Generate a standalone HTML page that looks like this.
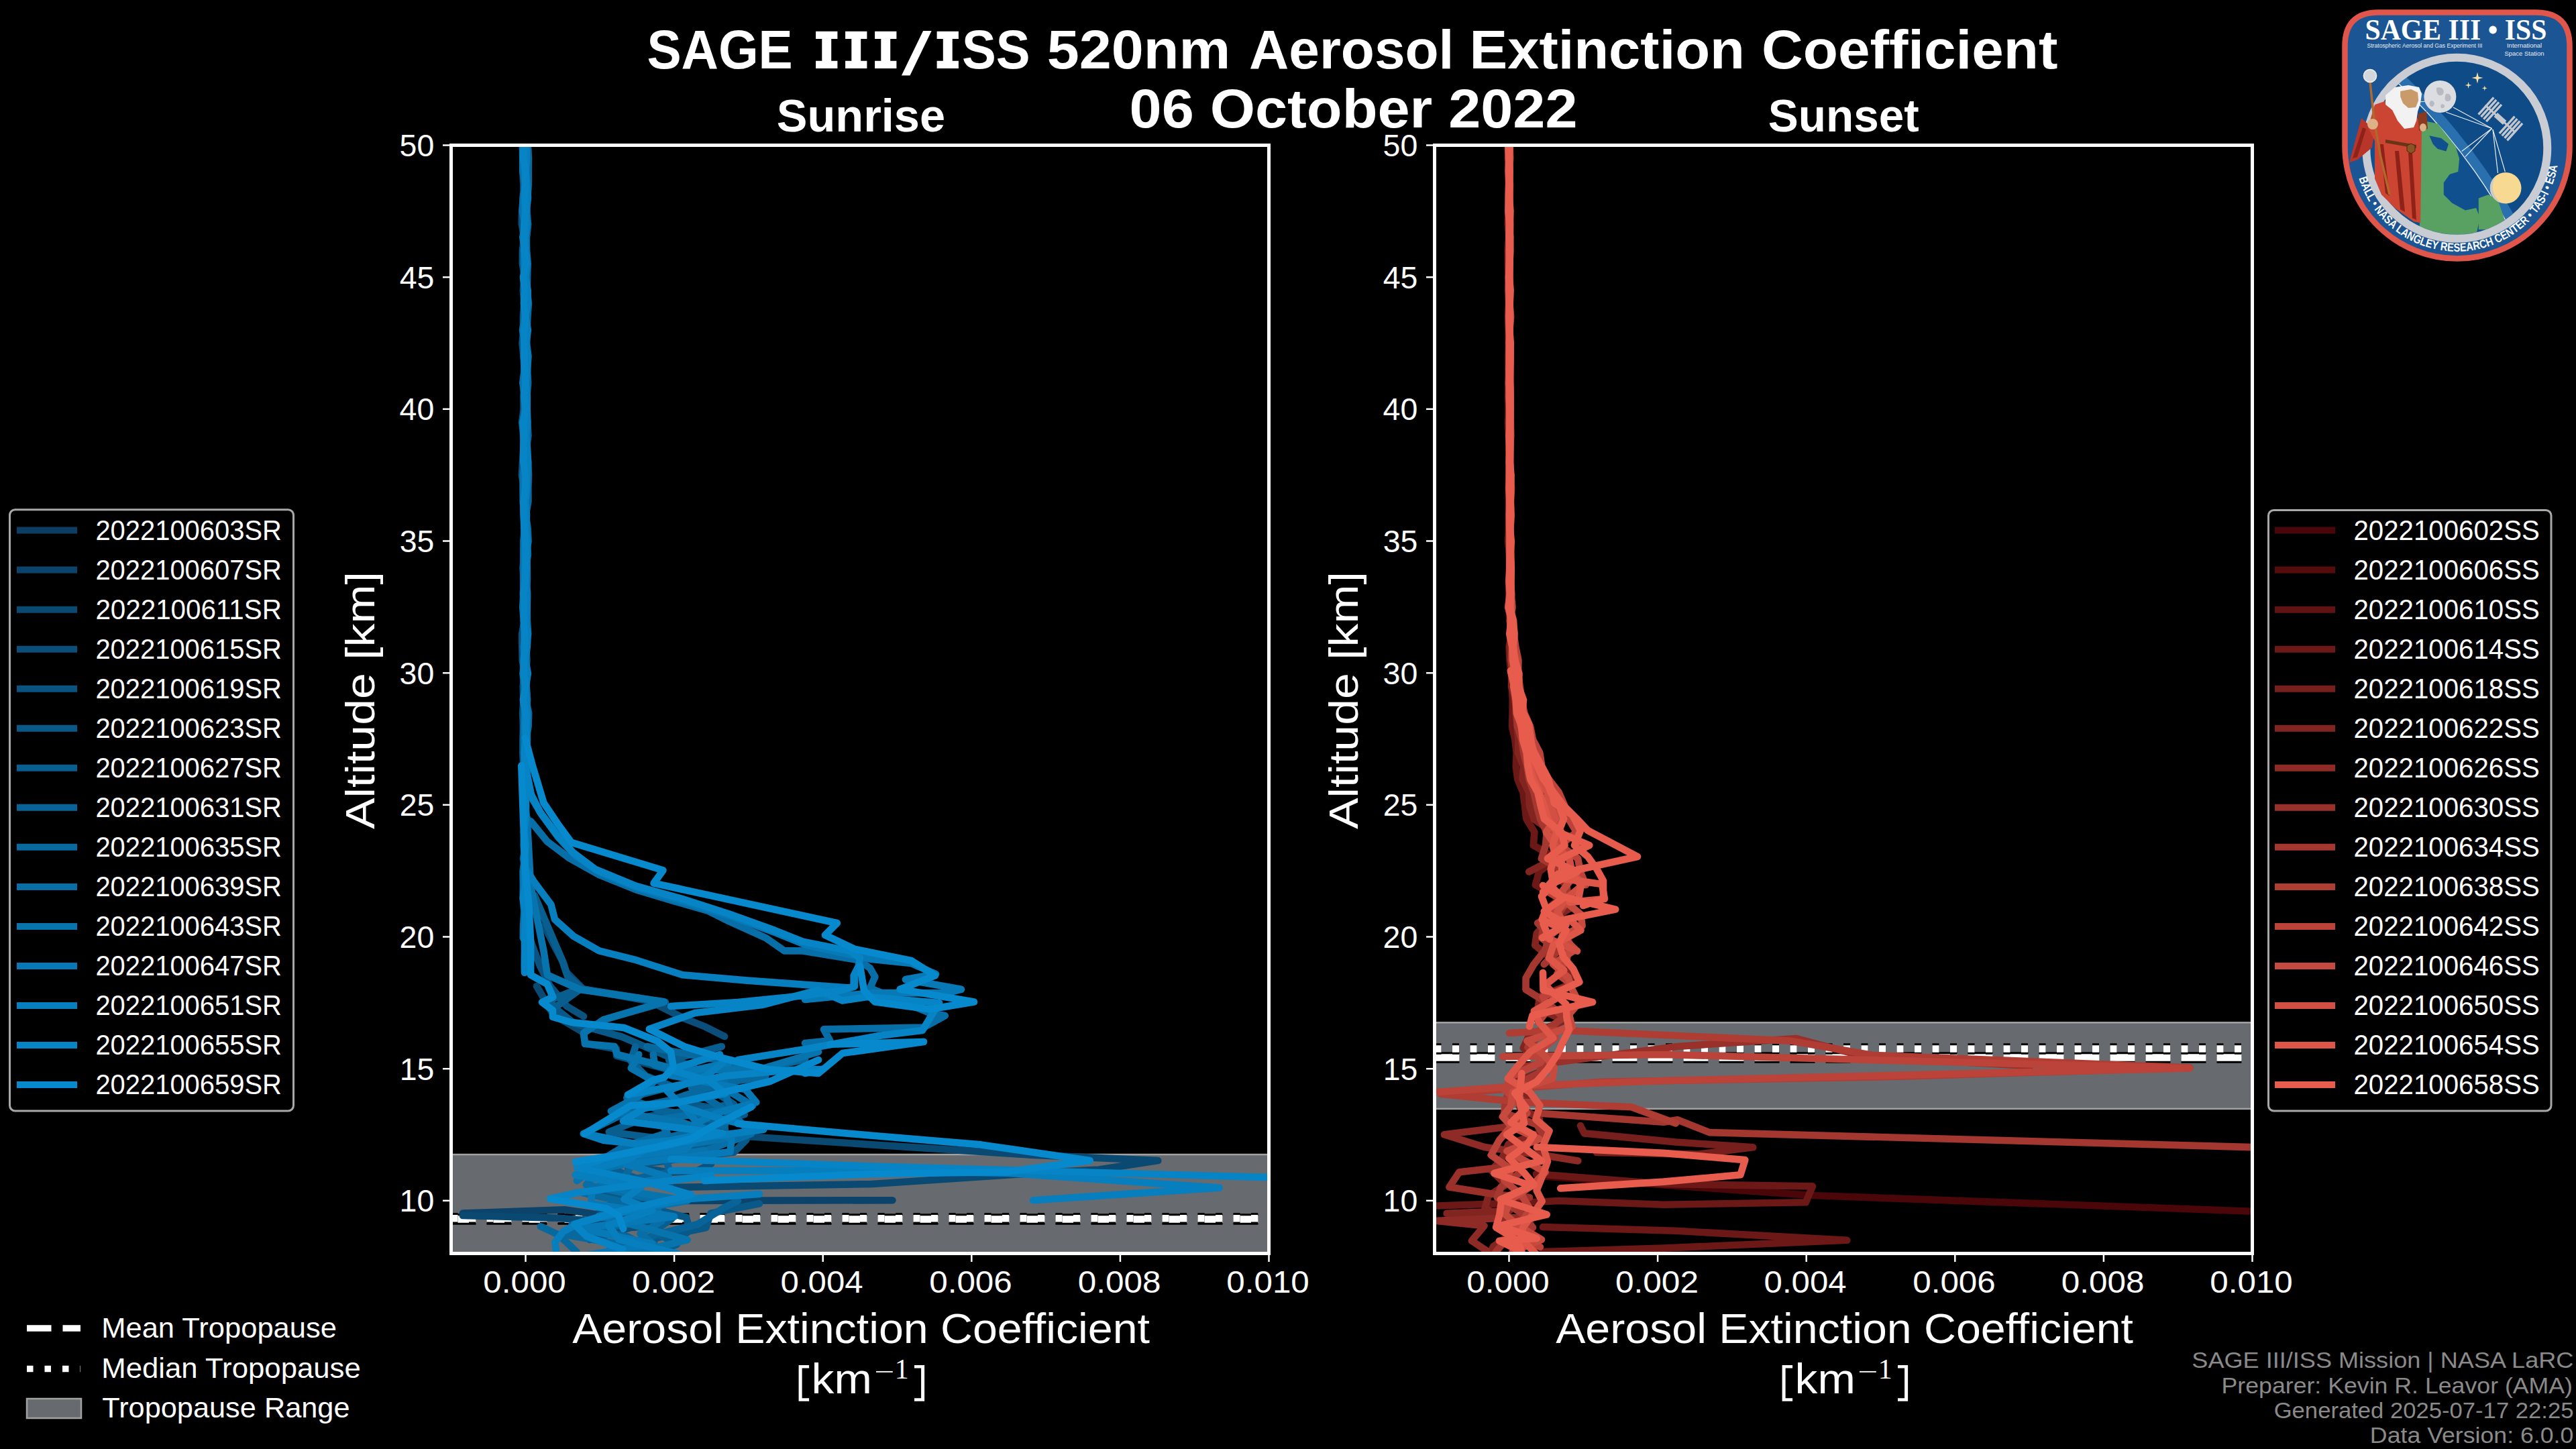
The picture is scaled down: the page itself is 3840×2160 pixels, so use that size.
<!DOCTYPE html>
<html><head><meta charset="utf-8"><title>SAGE III/ISS 520nm Aerosol Extinction Coefficient</title>
<style>html,body{margin:0;padding:0;background:#000;width:3840px;height:2160px;overflow:hidden}svg{display:block}</style>
</head><body>
<svg width="3840" height="2160" viewBox="0 0 3840 2160">
<rect width="3840" height="2160" fill="#000"/>
<defs>
<clipPath id="clipL"><rect x="672.5" y="216.5" width="1219.0" height="1652.0"/></clipPath>
<clipPath id="clipR"><rect x="2138.5" y="216.5" width="1219.0" height="1652.0"/></clipPath>
</defs>
<path d="M 1216.1,46.8 h 32.3 v 11.1 h -9.2 v 32.9 h 9.2 v 11.2 h -32.3 v -11.2 h 9.2 v -32.9 h -9.2 Z" fill="#fff"/>
<path d="M 1260.1,46.8 h 32.3 v 11.1 h -9.2 v 32.9 h 9.2 v 11.2 h -32.3 v -11.2 h 9.2 v -32.9 h -9.2 Z" fill="#fff"/>
<path d="M 1304.1,46.8 h 32.3 v 11.1 h -9.2 v 32.9 h 9.2 v 11.2 h -32.3 v -11.2 h 9.2 v -32.9 h -9.2 Z" fill="#fff"/>
<path d="M 1396.6,46.8 h 32.3 v 11.1 h -9.2 v 32.9 h 9.2 v 11.2 h -32.3 v -11.2 h 9.2 v -32.9 h -9.2 Z" fill="#fff"/>
<path d="M 1343.9,112.4 L 1356.5,112.4 L 1388.7,46.1 L 1376.1,46.1 Z" fill="#fff"/>
<text x="964.49" y="101.8" font-family='"Liberation Sans", sans-serif' font-size="81" font-weight="bold" fill="#fff" textLength="217.20" lengthAdjust="spacingAndGlyphs" >SAGE</text>
<text x="1434.01" y="101.8" font-family='"Liberation Sans", sans-serif' font-size="81" font-weight="bold" fill="#fff" textLength="101.57" lengthAdjust="spacingAndGlyphs" >SS</text>
<text x="1560.85" y="101.8" font-family='"Liberation Sans", sans-serif' font-size="81" font-weight="bold" fill="#fff" textLength="273.41" lengthAdjust="spacingAndGlyphs" >520nm</text>
<text x="1862.06" y="101.8" font-family='"Liberation Sans", sans-serif' font-size="81" font-weight="bold" fill="#fff" textLength="305.35" lengthAdjust="spacingAndGlyphs" >Aerosol</text>
<text x="2190.52" y="101.8" font-family='"Liberation Sans", sans-serif' font-size="81" font-weight="bold" fill="#fff" textLength="410.45" lengthAdjust="spacingAndGlyphs" >Extinction</text>
<text x="2625.99" y="101.8" font-family='"Liberation Sans", sans-serif' font-size="81" font-weight="bold" fill="#fff" textLength="441.55" lengthAdjust="spacingAndGlyphs" >Coefficient</text>
<text x="1683.58" y="190.3" font-family='"Liberation Sans", sans-serif' font-size="81" font-weight="bold" fill="#fff" textLength="667.88" lengthAdjust="spacingAndGlyphs" >06 October 2022</text>
<text x="1157.83" y="196.3" font-family='"Liberation Sans", sans-serif' font-size="68" font-weight="bold" fill="#fff" textLength="251.21" lengthAdjust="spacingAndGlyphs" >Sunrise</text>
<text x="2635.86" y="196.1" font-family='"Liberation Sans", sans-serif' font-size="68" font-weight="bold" fill="#fff" textLength="224.87" lengthAdjust="spacingAndGlyphs" >Sunset</text>
<g clip-path="url(#clipL)">
<rect x="672.5" y="1721.0" width="1219.0" height="462.2" fill="#676a6f" stroke="#a2a2a2" stroke-width="2.5"/>
<line x1="672.5" y1="1817.4" x2="1891.5" y2="1817.4" stroke="#000" stroke-width="16.5" stroke-dasharray="37 16"/>
<line x1="672.5" y1="1817.4" x2="1891.5" y2="1817.4" stroke="#fff" stroke-width="10.5" stroke-dasharray="37 16"/>
<line x1="672.5" y1="1816.2" x2="1891.5" y2="1816.2" stroke="#000" stroke-width="16.5" stroke-dasharray="10 16.5"/>
<line x1="672.5" y1="1816.2" x2="1891.5" y2="1816.2" stroke="#fff" stroke-width="10.5" stroke-dasharray="10 16.5"/>
<polyline points="689.9,1808.6 841.6,1803.2 877.4,1808.6 984.5,1826.4" fill="none" stroke="#0b436a" stroke-width="10.6" stroke-linejoin="round" stroke-linecap="round"/>
<polyline points="950.0,1790.0 1330.4,1789.2" fill="none" stroke="#0b436a" stroke-width="10.6" stroke-linejoin="round" stroke-linecap="round"/>
<polyline points="800.0,1470.0 824.7,1512.5 869.4,1539.0 872.7,1555.6 919.0,1563.8 919.0,1573.8 993.6,1593.6 1030.0,1600.0" fill="none" stroke="#0a4971" stroke-width="10.6" stroke-linejoin="round" stroke-linecap="round"/>
<polyline points="689.9,1812.0 832.7,1815.7 922.0,1822.9" fill="none" stroke="#0a4971" stroke-width="10.6" stroke-linejoin="round" stroke-linecap="round"/>
<polyline points="1050.0,1690.0 1300.0,1706.4 1536.8,1721.6 1726.2,1730.0 1638.2,1743.6 1570.6,1747.0 1300.0,1765.0 1000.0,1770.0" fill="none" stroke="#0a4971" stroke-width="10.6" stroke-linejoin="round" stroke-linecap="round"/>
<polyline points="811.4,1380.0 828.0,1413.1 839.6,1434.7 844.5,1449.6 862.7,1467.8 869.4,1474.4 968.7,1492.6 1018.4,1517.5 1051.5,1530.7 1080.0,1545.0" fill="none" stroke="#0a4e79" stroke-width="10.6" stroke-linejoin="round" stroke-linecap="round"/>
<polyline points="879.1,1847.9 939.9,1830.0 984.5,1826.4" fill="none" stroke="#0a4e79" stroke-width="10.6" stroke-linejoin="round" stroke-linecap="round"/>
<polyline points="778.8,216.0 780.2,235.7 779.4,255.4 780.5,275.1 780.6,294.8 778.1,314.5 777.9,334.2 781.5,353.9 778.9,373.6 778.8,393.3 782.2,413.0 779.9,432.7 781.5,452.4 779.9,472.1 780.6,491.8 778.5,511.5 780.6,531.2 781.6,550.9 780.1,570.6 781.1,590.3 780.8,610.0 778.1,629.7 781.1,649.4 780.4,669.1 779.1,688.8 777.9,708.5 781.6,728.2 779.9,747.9 781.0,767.6 781.7,787.3 780.9,807.0 781.9,826.7 779.5,846.4 781.3,866.1 779.8,885.8 781.9,905.5 781.7,925.2 778.2,944.9 778.4,964.6 778.8,984.3 782.0,1004.0 779.7,1023.7 780.6,1043.4 779.1,1063.1 780.0,1082.8 779.5,1102.5 779.3,1122.2 780.4,1141.9 780.0,1160.0" fill="none" stroke="#0a5381" stroke-width="10.6" stroke-linejoin="round" stroke-linecap="round"/>
<polyline points="790.0,1400.0 805.0,1440.0 820.0,1470.0 845.0,1500.0 870.0,1515.0" fill="none" stroke="#0a5381" stroke-width="10.6" stroke-linejoin="round" stroke-linecap="round"/>
<polyline points="950.0,1740.0 1000.0,1748.0 1040.0,1745.0 1060.0,1735.0" fill="none" stroke="#0a5381" stroke-width="10.6" stroke-linejoin="round" stroke-linecap="round"/>
<polyline points="783.4,216.0 784.8,235.7 783.8,255.4 784.9,275.1 784.6,294.8 785.2,314.5 783.8,334.2 781.5,353.9 784.6,373.6 785.0,393.3 784.8,413.0 783.3,432.7 783.9,452.4 781.7,472.1 784.5,491.8 783.3,511.5 782.1,531.2 781.1,550.9 784.6,570.6 785.2,590.3 781.2,610.0 784.3,629.7 782.6,649.4 781.5,669.1 782.1,688.8 784.2,708.5 784.6,728.2 781.0,747.9 783.5,767.6 781.0,787.3 784.0,807.0 782.3,826.7 784.7,846.4 785.1,866.1 783.0,885.8 785.2,905.5 782.2,925.2 781.1,944.9 783.4,964.6 780.9,984.3 781.7,1004.0 782.6,1023.7 783.5,1043.4 781.5,1063.1 781.0,1082.8 784.6,1102.5 782.2,1122.2 785.0,1141.9 784.7,1161.6 782.5,1181.3 783.0,1190.0" fill="none" stroke="#095988" stroke-width="10.6" stroke-linejoin="round" stroke-linecap="round"/>
<polyline points="830.0,1505.0 856.1,1525.7 927.3,1545.6 985.3,1570.5 1035.0,1592.0 1060.0,1610.0" fill="none" stroke="#095988" stroke-width="10.6" stroke-linejoin="round" stroke-linecap="round"/>
<polyline points="973.8,1866.0 975.6,1846.0 1052.4,1830.0 1059.5,1808.6 1132.0,1794.3" fill="none" stroke="#095988" stroke-width="10.6" stroke-linejoin="round" stroke-linecap="round"/>
<polyline points="1077.1,1584.0 1108.3,1600.2 1075.4,1618.0 1002.8,1640.3 1109.7,1661.4 1015.4,1682.1 1112.3,1699.3 1094.3,1717.4 937.9,1737.5 932.9,1756.4 898.2,1777.0 954.1,1797.0 1023.0,1814.7 1028.4,1834.3 996.2,1857.1 973.9,1878.0" fill="none" stroke="#095988" stroke-width="10.6" stroke-linejoin="round" stroke-linecap="round"/>
<polyline points="784.8,216.0 785.1,235.7 785.6,255.4 785.4,275.1 785.3,294.8 785.5,314.5 786.9,334.2 785.0,353.9 784.7,373.6 786.0,393.3 783.8,413.0 784.1,432.7 787.1,452.4 785.1,472.1 785.2,491.8 782.9,511.5 784.6,531.2 785.4,550.9 782.9,570.6 785.5,590.3 785.6,610.0 783.1,629.7 785.6,649.4 784.9,669.1 785.8,688.8 784.4,708.5 785.9,728.2 786.0,747.9 782.9,767.6 783.1,787.3 785.8,807.0 787.0,826.7 783.9,846.4 784.8,866.1 785.4,885.8 784.2,905.5 784.4,925.2 784.2,944.9 784.4,964.6 785.4,984.3 784.1,1004.0 784.5,1023.7 786.2,1043.4 782.9,1063.1 785.3,1082.8 786.0,1102.5 784.2,1122.2 783.8,1141.9 786.3,1161.6 783.9,1181.3 783.6,1201.0 785.0,1220.0" fill="none" stroke="#095e90" stroke-width="10.6" stroke-linejoin="round" stroke-linecap="round"/>
<polyline points="796.6,1334.6 821.4,1392.6 838.0,1431.2 846.3,1456.0 865.6,1472.6 810.4,1494.7 830.0,1500.0 866.0,1474.0 992.0,1494.0 900.0,1520.0" fill="none" stroke="#095e90" stroke-width="10.6" stroke-linejoin="round" stroke-linecap="round"/>
<polyline points="900.0,1735.0 930.0,1750.0 960.0,1760.0 1000.0,1770.0" fill="none" stroke="#095e90" stroke-width="10.6" stroke-linejoin="round" stroke-linecap="round"/>
<polyline points="1075.8,1560.0 997.3,1580.5 1043.1,1602.4 1061.3,1624.7 1094.0,1646.1 965.1,1664.6 907.8,1687.4 1064.6,1707.6 954.6,1726.1 902.6,1744.9 903.2,1766.6 969.7,1782.9 892.0,1800.7 1001.8,1816.6 974.4,1835.3 1009.1,1854.9 971.4,1871.2" fill="none" stroke="#095e90" stroke-width="10.6" stroke-linejoin="round" stroke-linecap="round"/>
<polyline points="781.7,216.0 782.9,235.7 780.2,255.4 781.2,275.1 781.3,294.8 783.5,314.5 781.7,334.2 783.6,353.9 780.5,373.6 781.3,393.3 782.7,413.0 783.7,432.7 781.8,452.4 780.8,472.1 780.3,491.8 782.1,511.5 780.6,531.2 783.3,550.9 783.5,570.6 780.6,590.3 781.0,610.0 783.4,629.7 782.6,649.4 783.3,669.1 781.3,688.8 780.4,708.5 781.1,728.2 783.3,747.9 781.0,767.6 781.3,787.3 781.6,807.0 781.6,826.7 781.6,846.4 783.9,866.1 780.5,885.8 779.8,905.5 784.0,925.2 783.7,944.9 784.1,964.6 781.7,984.3 784.0,1004.0 783.9,1023.7 780.8,1043.4 783.1,1063.1 783.5,1082.8 782.7,1102.5 782.1,1122.2 781.1,1141.9 781.3,1161.6 780.8,1181.3 780.1,1201.0 782.4,1220.7 781.1,1240.4 783.4,1260.1 780.0,1279.8 783.8,1299.5 782.0,1300.0" fill="none" stroke="#086498" stroke-width="10.6" stroke-linejoin="round" stroke-linecap="round"/>
<polyline points="905.0,1866.0 980.0,1840.0 1040.0,1825.0 1080.0,1800.0 1100.0,1790.0" fill="none" stroke="#086498" stroke-width="10.6" stroke-linejoin="round" stroke-linecap="round"/>
<polyline points="947.4,1560.0 940.2,1581.3 962.6,1603.9 1002.5,1619.7 934.3,1636.8 983.1,1654.8 1079.7,1672.0 1081.3,1690.2 934.8,1708.7 992.8,1727.9 998.6,1747.5 907.9,1764.2 947.8,1781.0 928.7,1803.5 852.3,1825.7 935.0,1843.3 977.6,1865.2" fill="none" stroke="#086498" stroke-width="10.6" stroke-linejoin="round" stroke-linecap="round"/>
<polyline points="786.9,216.0 787.9,235.7 787.7,255.4 787.8,275.1 786.3,294.8 783.9,314.5 787.1,334.2 784.6,353.9 785.1,373.6 786.7,393.3 786.1,413.0 785.6,432.7 787.9,452.4 786.5,472.1 785.3,491.8 784.9,511.5 787.6,531.2 785.9,550.9 787.2,570.6 785.3,590.3 784.7,610.0 786.2,629.7 787.4,649.4 784.6,669.1 787.3,688.8 787.9,708.5 787.3,728.2 787.4,747.9 783.8,767.6 786.6,787.3 787.6,807.0 784.0,826.7 785.0,846.4 785.0,866.1 786.1,885.8 785.7,905.5 785.9,925.2 787.2,944.9 783.8,964.6 784.0,984.3 784.4,1004.0 784.3,1023.7 784.1,1043.4 788.1,1063.1 787.6,1082.8 784.2,1102.5 786.0,1122.2 785.2,1141.9 786.0,1150.0" fill="none" stroke="#08699f" stroke-width="10.6" stroke-linejoin="round" stroke-linecap="round"/>
<polyline points="1200.0,1579.0 1150.0,1590.0 1100.0,1610.0 1060.0,1620.0 1000.0,1640.0 950.0,1650.0 870.0,1690.0" fill="none" stroke="#08699f" stroke-width="10.6" stroke-linejoin="round" stroke-linecap="round"/>
<polyline points="805.9,1828.2 832.7,1840.7 859.5,1866.0" fill="none" stroke="#08699f" stroke-width="10.6" stroke-linejoin="round" stroke-linecap="round"/>
<polyline points="964.4,1560.0 1079.5,1581.6 1141.2,1604.4 1031.0,1621.6 1060.3,1641.5 1086.1,1658.8 1080.7,1676.7 986.3,1697.5 1018.6,1716.7 941.8,1736.8 927.7,1759.9 868.4,1778.2 972.7,1801.4 952.5,1822.4 837.6,1839.7 952.1,1859.8" fill="none" stroke="#08699f" stroke-width="10.6" stroke-linejoin="round" stroke-linecap="round"/>
<polyline points="783.2,216.0 783.3,235.7 784.6,255.4 784.4,275.1 783.4,294.8 782.6,314.5 783.2,334.2 782.3,353.9 784.2,373.6 785.0,393.3 783.5,413.0 782.2,432.7 782.6,452.4 783.4,472.1 784.5,491.8 785.2,511.5 783.5,531.2 785.3,550.9 784.5,570.6 783.7,590.3 783.4,610.0 784.0,629.7 784.9,649.4 783.7,669.1 784.9,688.8 783.8,708.5 782.9,728.2 784.2,747.9 784.9,767.6 782.1,787.3 783.7,807.0 783.7,826.7 785.7,846.4 785.9,866.1 783.4,885.8 785.8,905.5 785.3,925.2 783.0,944.9 783.8,964.6 782.3,984.3 785.4,1004.0 784.7,1023.7 785.7,1043.4 785.3,1063.1 784.7,1082.8 785.0,1102.5 784.3,1122.2 782.3,1141.9 784.4,1161.6 781.8,1181.3 782.4,1201.0 785.2,1220.7 784.0,1240.0" fill="none" stroke="#086ea7" stroke-width="10.6" stroke-linejoin="round" stroke-linecap="round"/>
<polyline points="791.1,1224.2 815.9,1254.6 849.0,1279.4 893.2,1304.2 948.4,1326.3 1003.6,1342.9 1056.0,1358.0 1086.4,1373.2 1141.6,1398.1 1169.2,1417.4 1196.8,1417.4 1279.6,1431.2 1296.9,1443.2 1304.3,1456.2 1296.9,1473.0 1386.3,1510.2 1408.7,1514.0 1377.0,1531.6 1228.0,1534.4 1237.3,1551.2 1200.0,1555.0" fill="none" stroke="#086ea7" stroke-width="10.6" stroke-linejoin="round" stroke-linecap="round"/>
<polyline points="1080.0,1610.0 1084.0,1640.0 1096.0,1664.0 1120.0,1690.0 1040.0,1720.0" fill="none" stroke="#086ea7" stroke-width="10.6" stroke-linejoin="round" stroke-linecap="round"/>
<polyline points="973.8,1572.0 976.1,1587.8 1054.0,1609.5 1090.5,1628.9 1122.0,1648.3 982.3,1668.8 994.6,1689.0 930.0,1709.0 895.0,1730.3 889.5,1748.4 874.0,1766.3 975.5,1787.9 980.9,1803.9 986.7,1820.3 954.5,1839.3 982.5,1861.1" fill="none" stroke="#086ea7" stroke-width="10.6" stroke-linejoin="round" stroke-linecap="round"/>
<polyline points="779.0,216.0 779.2,235.7 779.2,255.4 782.7,275.1 779.6,294.8 778.9,314.5 782.5,334.2 779.3,353.9 782.5,373.6 781.8,393.3 782.5,413.0 783.0,432.7 781.3,452.4 782.3,472.1 779.0,491.8 782.2,511.5 781.0,531.2 781.9,550.9 779.3,570.6 782.1,590.3 782.9,610.0 779.1,629.7 780.2,649.4 781.3,669.1 782.4,688.8 779.9,708.5 779.6,728.2 779.9,747.9 781.5,767.6 782.1,787.3 780.5,807.0 780.4,826.7 780.5,846.4 780.3,866.1 780.6,885.8 779.2,905.5 781.0,925.2 783.1,944.9 780.6,964.6 782.1,984.3 779.5,1004.0 781.8,1023.7 782.1,1043.4 781.8,1063.1 781.1,1082.8 780.9,1102.5 781.6,1122.2 782.7,1141.9 779.5,1161.6 779.2,1181.3 782.1,1201.0 782.8,1220.7 781.1,1240.4 780.7,1260.1 782.0,1279.8 779.6,1299.5 780.0,1319.2 779.7,1338.9 781.4,1358.6 780.2,1378.3 779.8,1398.0 781.0,1400.0" fill="none" stroke="#0774ae" stroke-width="10.6" stroke-linejoin="round" stroke-linecap="round"/>
<polyline points="785.6,1218.7 791.1,1320.8 802.1,1376.0 810.4,1417.4 815.9,1453.3 865.6,1475.3 989.8,1493.3 900.0,1520.0 870.0,1540.0 872.0,1556.0 916.0,1560.0 920.0,1572.0 1000.0,1592.0 1040.0,1596.0 1140.0,1592.0 1220.0,1568.0" fill="none" stroke="#0774ae" stroke-width="10.6" stroke-linejoin="round" stroke-linecap="round"/>
<polyline points="860.0,1760.0 880.0,1745.0 960.0,1730.0 1000.0,1722.0 1050.0,1715.0" fill="none" stroke="#0774ae" stroke-width="10.6" stroke-linejoin="round" stroke-linecap="round"/>
<polyline points="952.2,1572.0 940.8,1592.4 975.2,1611.9 953.8,1633.2 910.9,1656.5 1015.3,1672.8 1085.5,1696.4 941.3,1718.6 916.7,1735.9 884.1,1753.6 912.9,1771.7 1024.6,1790.0 892.8,1812.4 966.8,1832.2 1024.6,1848.3 942.1,1868.5" fill="none" stroke="#0774ae" stroke-width="10.6" stroke-linejoin="round" stroke-linecap="round"/>
<polyline points="783.8,216.0 785.0,235.7 782.1,255.4 783.9,275.1 782.6,294.8 784.6,314.5 783.4,334.2 782.0,353.9 781.8,373.6 780.9,393.3 782.9,413.0 782.5,432.7 781.6,452.4 782.4,472.1 782.2,491.8 784.2,511.5 781.4,531.2 785.2,550.9 782.9,570.6 783.4,590.3 782.9,610.0 784.5,629.7 784.4,649.4 783.3,669.1 782.9,688.8 784.0,708.5 784.6,728.2 782.6,747.9 784.0,767.6 785.0,787.3 782.9,807.0 781.8,826.7 781.8,846.4 784.0,866.1 783.8,885.8 785.0,905.5 784.6,925.2 781.9,944.9 781.6,964.6 781.9,984.3 781.6,1004.0 783.9,1023.7 784.6,1043.4 784.8,1063.1 781.9,1082.8 784.6,1102.5 782.2,1122.2 782.7,1141.9 784.0,1161.6 781.2,1181.3 781.2,1201.0 784.5,1220.7 782.1,1240.4 782.4,1260.1 783.4,1279.8 783.8,1299.5 780.8,1319.2 782.3,1338.9 783.0,1350.0" fill="none" stroke="#0779b6" stroke-width="10.6" stroke-linejoin="round" stroke-linecap="round"/>
<polyline points="785.0,1150.0 793.0,1190.0 808.0,1215.0 832.0,1248.0 858.0,1276.0 893.0,1300.0 952.0,1324.0 1020.0,1344.0 1090.0,1366.0 1158.0,1391.0 1200.0,1408.0 1262.0,1422.0 1300.0,1430.0 1358.0,1436.0 1395.0,1452.0 1350.0,1460.0 1432.9,1474.8 1410.5,1480.4 1300.0,1480.0 1200.0,1490.0" fill="none" stroke="#0779b6" stroke-width="10.6" stroke-linejoin="round" stroke-linecap="round"/>
<polyline points="1018.0,1648.0 1036.0,1670.0 1036.0,1700.0 1020.0,1714.0 900.0,1727.0" fill="none" stroke="#0779b6" stroke-width="10.6" stroke-linejoin="round" stroke-linecap="round"/>
<polyline points="1087.1,1584.0 999.9,1603.0 1111.4,1624.1 1127.3,1643.2 1068.0,1659.3 1034.3,1676.6 1090.5,1697.2 1088.5,1717.1 933.5,1735.4 996.7,1754.8 882.0,1776.2 881.6,1793.9 1005.2,1813.4 863.6,1831.2 972.1,1854.1 847.9,1875.9" fill="none" stroke="#0779b6" stroke-width="10.6" stroke-linejoin="round" stroke-linecap="round"/>
<polyline points="784.7,216.0 784.9,235.7 783.7,255.4 785.4,275.1 787.0,294.8 784.5,314.5 785.2,334.2 783.3,353.9 784.0,373.6 785.7,393.3 783.3,413.0 786.7,432.7 786.8,452.4 783.2,472.1 786.9,491.8 784.4,511.5 786.2,531.2 786.1,550.9 784.1,570.6 785.8,590.3 785.7,610.0 786.3,629.7 784.0,649.4 786.1,669.1 787.0,688.8 785.8,708.5 785.2,728.2 783.3,747.9 785.0,767.6 784.3,787.3 786.0,807.0 785.8,826.7 785.3,846.4 783.6,866.1 785.6,885.8 785.6,905.5 783.6,925.2 786.7,944.9 785.7,964.6 783.3,984.3 786.9,1004.0 783.4,1023.7 784.3,1043.4 786.0,1063.1 785.4,1082.8 785.2,1102.5 785.6,1122.2 784.8,1141.9 784.2,1161.6 785.0,1180.0" fill="none" stroke="#077ebe" stroke-width="10.6" stroke-linejoin="round" stroke-linecap="round"/>
<polyline points="782.8,1293.2 796.6,1315.3 821.4,1348.4 827.0,1370.5 854.6,1395.3 893.2,1417.4 948.4,1431.2 1017.4,1453.3 1114.0,1461.6 1265.8,1472.6 1274.0,1470.0 1274.0,1455.0" fill="none" stroke="#077ebe" stroke-width="10.6" stroke-linejoin="round" stroke-linecap="round"/>
<polyline points="872.0,1690.0 970.0,1710.0 900.0,1727.0" fill="none" stroke="#077ebe" stroke-width="10.6" stroke-linejoin="round" stroke-linecap="round"/>
<polyline points="870.0,1690.0 900.0,1700.0 950.0,1705.0 1000.0,1700.0 1050.0,1690.0" fill="none" stroke="#077ebe" stroke-width="10.6" stroke-linejoin="round" stroke-linecap="round"/>
<polyline points="829.1,1866.0 827.4,1851.4 839.9,1835.4 868.4,1821.0 922.0,1808.6 975.6,1796.0 1029.1,1787.0 1132.0,1780.0" fill="none" stroke="#077ebe" stroke-width="10.6" stroke-linejoin="round" stroke-linecap="round"/>
<polyline points="1000.0,1745.0 1300.0,1745.3 1502.9,1748.7 1817.5,1770.6 1540.1,1789.2" fill="none" stroke="#077ebe" stroke-width="10.6" stroke-linejoin="round" stroke-linecap="round"/>
<polyline points="1077.9,1584.0 1052.4,1604.0 994.5,1626.3 1018.2,1649.7 1069.1,1666.3 1138.3,1683.8 977.8,1705.0 935.7,1728.3 857.8,1751.6 955.5,1769.7 930.5,1787.6 972.1,1804.2 906.9,1826.7 922.8,1847.7 1009.7,1869.0" fill="none" stroke="#077ebe" stroke-width="10.6" stroke-linejoin="round" stroke-linecap="round"/>
<polyline points="780.6,216.0 780.1,235.7 782.9,255.4 783.1,275.1 782.2,294.8 783.1,314.5 781.4,334.2 781.0,353.9 781.5,373.6 783.6,393.3 780.0,413.0 782.0,432.7 780.9,452.4 783.2,472.1 781.4,491.8 781.3,511.5 781.6,531.2 782.2,550.9 783.2,570.6 781.4,590.3 783.5,610.0 780.3,629.7 781.0,649.4 780.2,669.1 780.3,688.8 783.2,708.5 783.0,728.2 780.6,747.9 780.6,767.6 781.6,787.3 783.1,807.0 783.4,826.7 783.1,846.4 782.4,866.1 780.4,885.8 781.6,905.5 780.7,925.2 782.1,944.9 782.3,964.6 780.7,984.3 780.9,1004.0 783.2,1023.7 779.9,1043.4 783.3,1063.1 783.7,1082.8 784.0,1102.5 781.5,1122.2 782.2,1141.9 782.4,1161.6 782.6,1181.3 784.1,1201.0 782.8,1220.7 781.1,1240.4 783.6,1260.1 781.9,1279.8 782.4,1299.5 783.0,1319.2 779.8,1338.9 783.2,1358.6 782.7,1378.3 782.0,1398.0 782.1,1417.7 781.8,1437.4 782.0,1450.0" fill="none" stroke="#0684c5" stroke-width="10.6" stroke-linejoin="round" stroke-linecap="round"/>
<polyline points="782.8,1141.4 791.1,1182.8 804.9,1210.4 829.7,1243.5 854.6,1271.1 887.7,1296.0 948.4,1320.8 1017.4,1340.1 1086.4,1362.2 1155.4,1387.1 1196.8,1403.6 1265.8,1417.4 1282.0,1428.0 1280.0,1440.0 1272.7,1454.3 1272.7,1471.0 1250.0,1477.0 1200.0,1484.0 1100.0,1494.0 1000.0,1500.0" fill="none" stroke="#0684c5" stroke-width="10.6" stroke-linejoin="round" stroke-linecap="round"/>
<polyline points="968.0,1534.0 1036.0,1510.0 1136.0,1498.0 1220.0,1476.0 1255.9,1491.6 1293.0,1486.0 1400.0,1495.0 1375.0,1536.0 1311.8,1543.8 1200.0,1564.0 1100.0,1580.0" fill="none" stroke="#0684c5" stroke-width="10.6" stroke-linejoin="round" stroke-linecap="round"/>
<polyline points="936.0,1632.0 1000.0,1620.0 1080.0,1604.0 1180.0,1595.0 1226.0,1594.0 1200.0,1600.0" fill="none" stroke="#0684c5" stroke-width="10.6" stroke-linejoin="round" stroke-linecap="round"/>
<polyline points="820.2,1787.0 860.0,1778.0 950.0,1766.0 1000.0,1760.0 1060.0,1752.0" fill="none" stroke="#0684c5" stroke-width="10.6" stroke-linejoin="round" stroke-linecap="round"/>
<polyline points="1000.0,1728.0 1300.0,1738.5 1900.0,1755.4" fill="none" stroke="#0684c5" stroke-width="10.6" stroke-linejoin="round" stroke-linecap="round"/>
<polyline points="1073.1,1572.0 999.0,1594.5 1057.9,1611.5 1081.2,1630.0 959.7,1652.4 929.0,1671.1 1077.2,1689.4 996.3,1706.8 912.2,1724.0 860.1,1740.6 966.6,1762.6 1030.3,1781.1 928.4,1804.1 856.1,1825.0 874.8,1843.1 928.1,1862.5" fill="none" stroke="#0684c5" stroke-width="10.6" stroke-linejoin="round" stroke-linecap="round"/>
<polyline points="782.8,1100.0 793.8,1141.4 810.4,1196.6 832.5,1229.7 851.8,1255.9 988.4,1297.3 974.6,1316.6 1247.8,1376.0 1229.9,1393.9 1274.5,1415.0 1358.4,1432.0 1393.8,1454.3 1341.6,1474.8 1452.0,1493.5 1386.0,1504.6 1304.3,1493.5 1288.0,1476.7 1282.0,1440.0" fill="none" stroke="#0689cd" stroke-width="10.6" stroke-linejoin="round" stroke-linecap="round"/>
<polyline points="777.3,1141.4 780.0,1218.7 782.8,1293.2 788.3,1348.4 791.1,1403.6 791.1,1453.3 815.9,1467.1 824.2,1486.4 808.0,1494.0 824.0,1506.0 824.0,1516.0 852.0,1524.0 930.0,1532.0 980.0,1552.0 1000.0,1568.0 1004.0,1592.0 990.0,1606.0 974.0,1610.0 936.0,1632.0" fill="none" stroke="#0689cd" stroke-width="10.6" stroke-linejoin="round" stroke-linecap="round"/>
<polyline points="968.0,1534.0 1020.0,1560.0 1072.0,1576.0 1144.0,1594.0 1220.0,1600.0 1256.0,1570.0 1377.0,1553.0 1237.0,1556.8" fill="none" stroke="#0689cd" stroke-width="10.6" stroke-linejoin="round" stroke-linecap="round"/>
<polyline points="872.0,1690.0 940.0,1648.0 1010.0,1644.0 1148.0,1612.0 1220.0,1580.0" fill="none" stroke="#0689cd" stroke-width="10.6" stroke-linejoin="round" stroke-linecap="round"/>
<polyline points="857.7,1731.8 904.1,1724.6 975.6,1710.4 1029.1,1697.9 1060.0,1680.0 1120.0,1650.0" fill="none" stroke="#0689cd" stroke-width="10.6" stroke-linejoin="round" stroke-linecap="round"/>
<polyline points="820.2,1787.0 904.1,1801.4 922.0,1812.0 929.1,1831.8" fill="none" stroke="#0689cd" stroke-width="10.6" stroke-linejoin="round" stroke-linecap="round"/>
<polyline points="1100.0,1675.0 1300.0,1692.8 1462.3,1706.4 1624.7,1730.0 1499.5,1747.0 1300.0,1750.0 1050.0,1760.0" fill="none" stroke="#0689cd" stroke-width="10.6" stroke-linejoin="round" stroke-linecap="round"/>
</g>
<rect x="672.5" y="216.5" width="1219.0" height="1652.0" fill="none" stroke="#fff" stroke-width="5"/>
<line x1="660.0" y1="1789.8" x2="670.0" y2="1789.8" stroke="#fff" stroke-width="2.5"/>
<text x="595.59" y="1806.4" font-family='"Liberation Sans", sans-serif' font-size="46.5" font-weight="normal" fill="#fff" textLength="51.72" lengthAdjust="spacingAndGlyphs" >10</text>
<line x1="660.0" y1="1593.2" x2="670.0" y2="1593.2" stroke="#fff" stroke-width="2.5"/>
<text x="595.73" y="1609.8" font-family='"Liberation Sans", sans-serif' font-size="46.5" font-weight="normal" fill="#fff" textLength="51.72" lengthAdjust="spacingAndGlyphs" >15</text>
<line x1="660.0" y1="1396.5" x2="670.0" y2="1396.5" stroke="#fff" stroke-width="2.5"/>
<text x="595.59" y="1413.1" font-family='"Liberation Sans", sans-serif' font-size="46.5" font-weight="normal" fill="#fff" textLength="51.72" lengthAdjust="spacingAndGlyphs" >20</text>
<line x1="660.0" y1="1199.8" x2="670.0" y2="1199.8" stroke="#fff" stroke-width="2.5"/>
<text x="595.73" y="1216.4" font-family='"Liberation Sans", sans-serif' font-size="46.5" font-weight="normal" fill="#fff" textLength="51.72" lengthAdjust="spacingAndGlyphs" >25</text>
<line x1="660.0" y1="1003.2" x2="670.0" y2="1003.2" stroke="#fff" stroke-width="2.5"/>
<text x="595.59" y="1019.8" font-family='"Liberation Sans", sans-serif' font-size="46.5" font-weight="normal" fill="#fff" textLength="51.72" lengthAdjust="spacingAndGlyphs" >30</text>
<line x1="660.0" y1="806.5" x2="670.0" y2="806.5" stroke="#fff" stroke-width="2.5"/>
<text x="595.73" y="823.1" font-family='"Liberation Sans", sans-serif' font-size="46.5" font-weight="normal" fill="#fff" textLength="51.72" lengthAdjust="spacingAndGlyphs" >35</text>
<line x1="660.0" y1="609.8" x2="670.0" y2="609.8" stroke="#fff" stroke-width="2.5"/>
<text x="595.59" y="626.4" font-family='"Liberation Sans", sans-serif' font-size="46.5" font-weight="normal" fill="#fff" textLength="51.72" lengthAdjust="spacingAndGlyphs" >40</text>
<line x1="660.0" y1="413.2" x2="670.0" y2="413.2" stroke="#fff" stroke-width="2.5"/>
<text x="595.73" y="429.8" font-family='"Liberation Sans", sans-serif' font-size="46.5" font-weight="normal" fill="#fff" textLength="51.72" lengthAdjust="spacingAndGlyphs" >45</text>
<line x1="660.0" y1="216.5" x2="670.0" y2="216.5" stroke="#fff" stroke-width="2.5"/>
<text x="595.59" y="233.1" font-family='"Liberation Sans", sans-serif' font-size="46.5" font-weight="normal" fill="#fff" textLength="51.72" lengthAdjust="spacingAndGlyphs" >50</text>
<line x1="783.5" y1="1871.0" x2="783.5" y2="1881.0" stroke="#fff" stroke-width="2.5"/>
<text x="720.37" y="1926.5" font-family='"Liberation Sans", sans-serif' font-size="46.5" font-weight="normal" fill="#fff" textLength="123.45" lengthAdjust="spacingAndGlyphs" >0.000</text>
<line x1="1005.1" y1="1871.0" x2="1005.1" y2="1881.0" stroke="#fff" stroke-width="2.5"/>
<text x="941.96" y="1926.5" font-family='"Liberation Sans", sans-serif' font-size="46.5" font-weight="normal" fill="#fff" textLength="124.03" lengthAdjust="spacingAndGlyphs" >0.002</text>
<line x1="1226.7" y1="1871.0" x2="1226.7" y2="1881.0" stroke="#fff" stroke-width="2.5"/>
<text x="1163.58" y="1926.5" font-family='"Liberation Sans", sans-serif' font-size="46.5" font-weight="normal" fill="#fff" textLength="122.96" lengthAdjust="spacingAndGlyphs" >0.004</text>
<line x1="1448.3" y1="1871.0" x2="1448.3" y2="1881.0" stroke="#fff" stroke-width="2.5"/>
<text x="1385.17" y="1926.5" font-family='"Liberation Sans", sans-serif' font-size="46.5" font-weight="normal" fill="#fff" textLength="123.70" lengthAdjust="spacingAndGlyphs" >0.006</text>
<line x1="1669.9" y1="1871.0" x2="1669.9" y2="1881.0" stroke="#fff" stroke-width="2.5"/>
<text x="1606.77" y="1926.5" font-family='"Liberation Sans", sans-serif' font-size="46.5" font-weight="normal" fill="#fff" textLength="123.68" lengthAdjust="spacingAndGlyphs" >0.008</text>
<line x1="1891.5" y1="1871.0" x2="1891.5" y2="1881.0" stroke="#fff" stroke-width="2.5"/>
<text x="1828.37" y="1926.5" font-family='"Liberation Sans", sans-serif' font-size="46.5" font-weight="normal" fill="#fff" textLength="123.45" lengthAdjust="spacingAndGlyphs" >0.010</text>
<text x="853.17" y="2002.2" font-family='"Liberation Sans", sans-serif' font-size="62.5" font-weight="normal" fill="#fff" textLength="860.81" lengthAdjust="spacingAndGlyphs" >Aerosol Extinction Coefficient</text>
<path d="M 1190.6,2035 H 1206.1 V 2039.6 H 1195.6 V 2084.2 H 1206.1 V 2088.8 H 1190.6 Z" fill="#fff"/>
<path d="M 1378.1,2035 H 1363.0 V 2039.6 H 1373.1 V 2084.2 H 1363.0 V 2088.8 H 1378.1 Z" fill="#fff"/>
<text x="1209.64" y="2077.0" font-family='"Liberation Sans", sans-serif' font-size="62.5" font-weight="normal" fill="#fff" textLength="90.22" lengthAdjust="spacingAndGlyphs" >km</text>
<rect x="1306.0" y="2043.9" width="24.8" height="1.9" fill="#fff"/>
<text x="1333.63" y="2055.0" font-family='"Liberation Serif", serif' font-size="41.5" font-weight="normal" fill="#fff" textLength="20.88" lengthAdjust="spacingAndGlyphs" >1</text>
<text x="0" y="0" transform="translate(558.4 1044.0) rotate(-90)" font-family='"Liberation Sans", sans-serif' font-size="61" fill="#fff" text-anchor="middle" textLength="384" lengthAdjust="spacingAndGlyphs">Altitude [km]</text>
<g clip-path="url(#clipR)">
<rect x="2138.5" y="1524.3" width="1219.0" height="128.6" fill="#676a6f" stroke="#a2a2a2" stroke-width="2.5"/>
<line x1="2138.5" y1="1576.4" x2="3357.5" y2="1576.4" stroke="#000" stroke-width="16.5" stroke-dasharray="37 16"/>
<line x1="2138.5" y1="1576.4" x2="3357.5" y2="1576.4" stroke="#fff" stroke-width="10.5" stroke-dasharray="37 16"/>
<line x1="2138.5" y1="1563.5" x2="3357.5" y2="1563.5" stroke="#000" stroke-width="16.5" stroke-dasharray="10 16.5"/>
<line x1="2138.5" y1="1563.5" x2="3357.5" y2="1563.5" stroke="#fff" stroke-width="10.5" stroke-dasharray="10 16.5"/>
<polyline points="2290.8,1752.8 2498.0,1767.7 2702.0,1782.0 3365.0,1806.0" fill="none" stroke="#4a0608" stroke-width="10.6" stroke-linejoin="round" stroke-linecap="round"/>
<polyline points="2247.9,216.0 2248.0,235.7 2249.0,255.4 2249.3,275.1 2248.9,294.8 2248.3,314.5 2247.7,334.2 2249.4,353.9 2247.9,373.6 2248.1,393.3 2248.3,413.0 2248.5,432.7 2249.5,452.4 2248.4,472.1 2249.1,491.8 2249.1,511.5 2248.5,531.2 2248.6,550.9 2248.7,570.6 2248.1,590.3 2249.0,610.0 2248.1,629.7 2249.1,649.4 2249.7,669.1 2249.8,688.8 2249.2,708.5 2248.9,728.2 2249.0,747.9 2249.3,767.6 2249.7,787.3 2248.5,807.0 2249.9,826.7 2249.9,846.4 2248.9,866.1 2249.5,885.8 2248.9,905.5 2251.1,925.2 2252.4,944.9 2249.7,964.6 2250.5,984.3 2252.6,1004.0 2253.8,1023.7 2254.8,1043.4 2254.7,1063.1 2254.0,1082.8 2258.4,1102.5 2260.7,1122.2 2259.7,1141.9 2262.3,1161.6 2270.4,1181.3 2273.0,1201.0 2275.3,1220.7 2287.4,1240.4 2285.8,1260.1 2320.4,1279.8 2294.2,1299.5 2288.9,1319.2 2324.4,1338.9 2304.0,1358.6 2313.6,1378.3" fill="none" stroke="#6c1817" stroke-width="10.6" stroke-linejoin="round" stroke-linecap="round"/>
<polyline points="2290.0,1750.0 2480.0,1765.0 2702.0,1768.4 2691.8,1792.3 2480.0,1795.7 2324.0,1790.0 2249.8,1793.8 2141.7,1797.5" fill="none" stroke="#6c1817" stroke-width="10.6" stroke-linejoin="round" stroke-linecap="round"/>
<polyline points="2300.0,1829.0 2498.0,1834.8 2753.3,1848.7 2480.0,1860.6 2300.0,1866.0" fill="none" stroke="#6c1817" stroke-width="10.6" stroke-linejoin="round" stroke-linecap="round"/>
<polyline points="2356.0,1678.0 2361.6,1689.4 2498.0,1702.5 2613.2,1710.3 2531.2,1720.6 2380.0,1718.0" fill="none" stroke="#771f1c" stroke-width="10.6" stroke-linejoin="round" stroke-linecap="round"/>
<polyline points="2249.4,216.0 2248.9,235.7 2248.2,255.4 2249.1,275.1 2248.5,294.8 2249.1,314.5 2250.0,334.2 2249.2,353.9 2248.2,373.6 2248.5,393.3 2250.0,413.0 2248.5,432.7 2249.0,452.4 2248.3,472.1 2248.9,491.8 2249.0,511.5 2250.3,531.2 2250.2,550.9 2248.6,570.6 2249.9,590.3 2248.9,610.0 2249.5,629.7 2249.5,649.4 2249.6,669.1 2249.6,688.8 2249.4,708.5 2249.5,728.2 2249.4,747.9 2249.0,767.6 2249.0,787.3 2248.7,807.0 2250.1,826.7 2250.6,846.4 2250.7,866.1 2250.2,885.8 2251.2,905.5 2252.2,925.2 2253.3,944.9 2250.6,964.6 2253.0,984.3 2253.7,1004.0 2253.0,1023.7 2259.3,1043.4 2259.2,1063.1 2261.4,1082.8 2263.5,1102.5 2263.0,1122.2 2270.9,1141.9 2269.5,1161.6 2279.3,1181.3 2279.9,1201.0 2286.4,1220.7 2313.8,1240.4 2323.9,1260.1 2317.7,1279.8 2279.3,1299.5" fill="none" stroke="#822521" stroke-width="10.6" stroke-linejoin="round" stroke-linecap="round"/>
<polyline points="2250.0,1805.0 2156.6,1808.7 2230.0,1815.0" fill="none" stroke="#822521" stroke-width="10.6" stroke-linejoin="round" stroke-linecap="round"/>
<polyline points="2310.3,1280.0 2316.5,1301.7 2333.6,1318.6 2333.0,1336.2 2342.5,1353.1 2314.3,1368.7 2290.9,1391.0 2288.3,1409.1 2310.1,1427.2 2341.8,1449.7 2341.0,1467.2 2295.6,1485.9 2292.3,1503.2 2332.4,1521.4 2279.7,1542.7 2270.8,1562.3 2303.2,1579.5 2301.4,1595.2 2249.4,1617.1 2281.2,1634.5 2265.1,1650.1 2294.6,1667.1 2297.2,1688.5 2248.6,1705.7 2238.6,1727.8 2223.2,1744.7 2245.0,1766.1 2218.7,1782.7 2213.6,1801.3 2243.3,1816.6 2258.7,1836.1 2226.0,1858.2 2218.7,1873.9" fill="none" stroke="#822521" stroke-width="10.6" stroke-linejoin="round" stroke-linecap="round"/>
<polyline points="2259.1,1678.3 2152.9,1691.3 2212.5,1709.9 2300.0,1722.0 2352.3,1730.4" fill="none" stroke="#8e2b26" stroke-width="10.6" stroke-linejoin="round" stroke-linecap="round"/>
<polyline points="2260.0,1815.0 2141.7,1819.9 2212.5,1827.3 2193.9,1849.7 2216.3,1864.6" fill="none" stroke="#8e2b26" stroke-width="10.6" stroke-linejoin="round" stroke-linecap="round"/>
<polyline points="2270.0,1590.0 2500.0,1560.0 2678.0,1548.0 2780.6,1575.4 3026.6,1589.0" fill="none" stroke="#99312a" stroke-width="10.6" stroke-linejoin="round" stroke-linecap="round"/>
<polyline points="2240.0,1740.0 2175.3,1747.2 2160.4,1769.6 2231.2,1780.7 2280.0,1785.0" fill="none" stroke="#99312a" stroke-width="10.6" stroke-linejoin="round" stroke-linecap="round"/>
<polyline points="2249.7,216.0 2249.8,235.7 2248.5,255.4 2250.1,275.1 2250.0,294.8 2250.0,314.5 2249.8,334.2 2250.4,353.9 2250.1,373.6 2250.3,393.3 2249.4,413.0 2248.7,432.7 2250.6,452.4 2250.1,472.1 2250.6,491.8 2250.4,511.5 2250.7,531.2 2250.3,550.9 2249.0,570.6 2250.3,590.3 2249.7,610.0 2250.6,629.7 2249.1,649.4 2250.1,669.1 2249.5,688.8 2249.2,708.5 2250.3,728.2 2250.9,747.9 2249.4,767.6 2250.1,787.3 2250.3,807.0 2250.5,826.7 2251.2,846.4 2249.5,866.1 2250.3,885.8 2248.4,905.5 2253.2,925.2 2254.0,944.9 2254.4,964.6 2252.5,984.3 2255.8,1004.0 2258.2,1023.7 2258.6,1043.4 2261.0,1063.1 2262.0,1082.8 2268.3,1102.5 2271.1,1122.2 2276.3,1141.9 2279.3,1161.6 2286.6,1181.3 2290.7,1201.0 2296.0,1220.7 2305.7,1240.4 2304.0,1260.1 2297.9,1279.8 2331.9,1299.5 2335.5,1319.2 2337.4,1338.9 2309.2,1358.6 2301.6,1378.3 2297.9,1398.0 2322.7,1417.7 2301.7,1437.4" fill="none" stroke="#a4372f" stroke-width="10.6" stroke-linejoin="round" stroke-linecap="round"/>
<polyline points="2300.0,1660.0 2480.0,1672.7 2500.5,1669.3 2548.3,1688.1 3365.0,1710.3" fill="none" stroke="#a4372f" stroke-width="10.6" stroke-linejoin="round" stroke-linecap="round"/>
<polyline points="2338.8,1340.0 2325.4,1359.4 2292.1,1376.0 2309.2,1394.3 2303.8,1415.4 2286.2,1437.9 2274.6,1458.1 2274.5,1475.0 2310.4,1497.6 2330.5,1517.0 2298.9,1539.5 2277.3,1561.2 2301.5,1581.8 2294.3,1599.8 2252.0,1620.6 2243.7,1641.6 2242.4,1659.0 2290.7,1676.3 2302.8,1694.8 2260.5,1711.1 2261.9,1726.4 2265.0,1748.8 2237.5,1769.5 2231.9,1785.1 2266.7,1807.6 2285.0,1829.8 2246.2,1847.0 2229.2,1866.9" fill="none" stroke="#a4372f" stroke-width="10.6" stroke-linejoin="round" stroke-linecap="round"/>
<polyline points="2250.0,1540.0 2324.0,1535.7 2669.0,1551.6 2791.6,1573.0 3264.5,1591.5 2829.0,1604.8 2387.7,1612.7 2148.6,1631.0 2268.0,1642.9 2432.0,1650.3 2498.0,1674.5" fill="none" stroke="#b03d34" stroke-width="10.6" stroke-linejoin="round" stroke-linecap="round"/>
<polyline points="2250.6,216.0 2251.2,235.7 2250.1,255.4 2250.9,275.1 2250.7,294.8 2250.8,314.5 2250.1,334.2 2251.0,353.9 2250.8,373.6 2250.6,393.3 2250.8,413.0 2250.8,432.7 2250.5,452.4 2252.1,472.1 2250.5,491.8 2250.9,511.5 2251.3,531.2 2251.4,550.9 2250.7,570.6 2251.1,590.3 2251.6,610.0 2251.8,629.7 2252.2,649.4 2251.2,669.1 2251.4,688.8 2251.7,708.5 2253.0,728.2 2251.8,747.9 2252.7,767.6 2251.6,787.3 2251.7,807.0 2252.0,826.7 2252.6,846.4 2251.8,866.1 2253.3,885.8 2250.7,905.5 2256.2,925.2 2256.6,944.9 2259.4,964.6 2263.4,984.3 2263.1,1004.0 2265.7,1023.7 2268.3,1043.4 2272.4,1063.1 2281.1,1082.8 2285.0,1102.5 2295.3,1122.2 2298.3,1141.9 2308.6,1161.6 2323.8,1181.3 2332.4,1201.0 2338.4,1220.7 2350.0,1240.4 2325.7,1260.1 2352.1,1279.8 2355.8,1299.5 2363.9,1319.2" fill="none" stroke="#bb4339" stroke-width="10.6" stroke-linejoin="round" stroke-linecap="round"/>
<polyline points="2240.0,1575.0 2480.0,1572.0 3264.0,1592.5 2480.0,1611.0 2268.4,1618.6 2141.7,1628.0" fill="none" stroke="#bb4339" stroke-width="10.6" stroke-linejoin="round" stroke-linecap="round"/>
<polyline points="2321.1,1310.0 2308.8,1330.0 2336.2,1346.5 2305.3,1366.4 2326.1,1385.9 2339.9,1406.4 2335.8,1428.9 2321.5,1451.5 2344.3,1468.7 2299.9,1485.9 2309.4,1502.1 2293.2,1524.2 2318.9,1546.6 2298.3,1563.7 2296.9,1583.4 2254.2,1603.8 2243.0,1624.3 2262.2,1643.3 2276.5,1659.3 2252.6,1678.9 2234.9,1699.8 2222.7,1722.0 2253.0,1743.4 2242.5,1759.7 2268.9,1782.2 2280.5,1801.9 2270.8,1818.4 2249.5,1840.3 2295.9,1858.8" fill="none" stroke="#bb4339" stroke-width="10.6" stroke-linejoin="round" stroke-linecap="round"/>
<polyline points="2249.2,216.0 2250.7,235.7 2250.7,255.4 2250.4,275.1 2249.7,294.8 2249.9,314.5 2251.1,334.2 2250.5,353.9 2250.1,373.6 2250.6,393.3 2250.1,413.0 2250.0,432.7 2249.7,452.4 2251.5,472.1 2250.1,491.8 2250.7,511.5 2251.7,531.2 2251.2,550.9 2250.7,570.6 2251.8,590.3 2250.3,610.0 2250.7,629.7 2250.9,649.4 2250.5,669.1 2250.5,688.8 2252.0,708.5 2251.7,728.2 2251.4,747.9 2250.8,767.6 2250.9,787.3 2252.1,807.0 2252.2,826.7 2252.7,846.4 2252.0,866.1 2252.7,885.8 2254.4,905.5 2250.8,925.2 2252.7,944.9 2254.7,964.6 2260.2,984.3 2260.3,1004.0 2261.8,1023.7 2269.4,1043.4 2270.8,1063.1 2271.9,1082.8 2281.6,1102.5 2281.9,1122.2 2288.4,1141.9 2297.4,1161.6 2309.3,1181.3 2318.3,1201.0 2321.6,1220.7 2316.8,1240.4 2322.9,1260.1 2330.9,1279.8" fill="none" stroke="#c64a3e" stroke-width="10.6" stroke-linejoin="round" stroke-linecap="round"/>
<polyline points="2342.8,1310.0 2328.4,1328.9 2335.8,1345.9 2356.5,1363.1 2358.6,1380.1 2328.3,1396.1 2348.6,1415.5 2315.0,1437.1 2337.7,1457.1 2342.9,1473.6 2353.9,1495.0 2338.9,1511.9 2343.6,1530.5 2276.4,1551.6 2302.7,1574.0 2316.8,1591.3 2314.4,1607.7 2255.2,1627.5 2252.3,1648.8 2239.9,1664.6 2254.6,1680.4 2294.4,1697.8 2246.4,1715.9 2274.7,1731.2 2303.6,1747.2 2282.8,1768.1 2252.1,1787.7 2243.3,1809.7 2261.6,1826.0 2298.0,1847.8 2254.6,1865.9" fill="none" stroke="#c64a3e" stroke-width="10.6" stroke-linejoin="round" stroke-linecap="round"/>
<polyline points="2250.5,216.0 2249.6,235.7 2250.4,255.4 2249.6,275.1 2249.8,294.8 2250.8,314.5 2249.8,334.2 2251.0,353.9 2249.6,373.6 2250.0,393.3 2249.5,413.0 2249.8,432.7 2250.7,452.4 2250.7,472.1 2250.2,491.8 2250.0,511.5 2251.5,531.2 2250.4,550.9 2250.9,570.6 2251.6,590.3 2251.8,610.0 2250.9,629.7 2251.1,649.4 2250.7,669.1 2250.8,688.8 2250.6,708.5 2251.4,728.2 2250.5,747.9 2252.2,767.6 2251.5,787.3 2250.4,807.0 2251.8,826.7 2251.7,846.4 2251.9,866.1 2251.2,885.8 2252.3,905.5 2251.7,925.2 2255.6,944.9 2255.1,964.6 2258.8,984.3 2260.9,1004.0 2264.1,1023.7 2268.2,1043.4 2270.4,1063.1 2273.1,1082.8 2275.2,1102.5 2282.1,1122.2 2288.5,1141.9 2294.9,1161.6 2306.5,1181.3 2310.7,1201.0 2318.4,1220.7 2304.8,1240.4 2318.2,1260.1 2339.2,1279.8 2343.4,1299.5 2359.6,1319.2 2335.6,1338.9 2321.6,1358.6 2331.3,1378.3 2306.0,1398.0 2351.1,1417.7" fill="none" stroke="#d15043" stroke-width="10.6" stroke-linejoin="round" stroke-linecap="round"/>
<polyline points="2248.6,216.0 2248.9,235.7 2250.5,255.4 2249.1,275.1 2248.8,294.8 2248.9,314.5 2249.8,334.2 2249.6,353.9 2250.3,373.6 2249.6,393.3 2249.3,413.0 2250.5,432.7 2249.3,452.4 2250.2,472.1 2250.7,491.8 2249.6,511.5 2249.6,531.2 2250.0,550.9 2249.5,570.6 2250.6,590.3 2250.5,610.0 2251.1,629.7 2249.5,649.4 2250.6,669.1 2249.8,688.8 2251.5,708.5 2250.8,728.2 2250.4,747.9 2251.0,767.6 2250.8,787.3 2250.5,807.0 2250.6,826.7 2250.3,846.4 2251.9,866.1 2251.0,885.8 2248.3,905.5 2253.7,925.2 2251.7,944.9 2256.2,964.6 2257.3,984.3 2256.9,1004.0 2261.8,1023.7 2260.5,1043.4 2264.3,1063.1 2267.4,1082.8 2271.4,1102.5 2277.5,1122.2 2280.1,1141.9 2285.3,1161.6 2294.9,1181.3 2301.8,1201.0 2307.7,1220.7 2320.7,1240.4 2314.4,1260.1 2320.1,1279.8 2338.2,1299.5 2356.9,1319.2 2353.2,1338.9" fill="none" stroke="#dd5648" stroke-width="10.6" stroke-linejoin="round" stroke-linecap="round"/>
<polyline points="2330.0,1310.0 2388.0,1318.0 2392.0,1340.0 2340.0,1345.0" fill="none" stroke="#dd5648" stroke-width="10.6" stroke-linejoin="round" stroke-linecap="round"/>
<polyline points="2339.4,1370.0 2356.5,1386.7 2315.4,1409.1 2309.1,1428.2 2331.3,1446.5 2303.6,1468.0 2321.6,1487.3 2286.9,1507.1 2295.1,1525.2 2315.3,1547.4 2281.2,1567.8 2261.7,1590.1 2247.7,1607.9 2280.2,1627.6 2295.5,1648.1 2289.5,1668.6 2309.5,1685.7 2300.0,1708.5 2307.0,1731.2 2299.2,1753.1 2290.6,1774.5 2298.7,1790.6 2286.0,1808.5 2269.8,1830.6 2268.8,1847.8 2290.3,1869.7" fill="none" stroke="#dd5648" stroke-width="10.6" stroke-linejoin="round" stroke-linecap="round"/>
<polyline points="2250.7,216.0 2249.2,235.7 2249.8,255.4 2250.1,275.1 2249.9,294.8 2251.4,314.5 2250.9,334.2 2251.1,353.9 2251.3,373.6 2250.5,393.3 2249.9,413.0 2251.6,432.7 2250.7,452.4 2250.5,472.1 2250.3,491.8 2251.8,511.5 2251.4,531.2 2250.9,550.9 2251.3,570.6 2251.3,590.3 2251.3,610.0 2251.2,629.7 2251.1,649.4 2251.4,669.1 2250.7,688.8 2252.5,708.5 2251.9,728.2 2251.8,747.9 2252.0,767.6 2250.9,787.3 2252.8,807.0 2251.4,826.7 2252.8,846.4 2252.4,866.1 2252.4,885.8 2251.1,905.5 2255.5,925.2 2257.6,944.9 2255.6,964.6 2258.3,984.3 2264.5,1004.0 2263.8,1023.7 2271.0,1043.4 2269.3,1063.1 2273.6,1082.8 2281.4,1102.5 2286.7,1122.2 2294.4,1141.9 2305.0,1161.6 2311.6,1181.3 2324.5,1201.0 2331.1,1220.7 2323.1,1240.4 2369.3,1260.1 2326.9,1279.8 2328.6,1299.5" fill="none" stroke="#e85c4d" stroke-width="10.6" stroke-linejoin="round" stroke-linecap="round"/>
<polyline points="2248.4,216.0 2249.6,235.7 2249.1,255.4 2250.0,275.1 2249.4,294.8 2248.5,314.5 2250.3,334.2 2249.7,353.9 2250.3,373.6 2250.5,393.3 2249.0,413.0 2249.7,432.7 2250.1,452.4 2249.4,472.1 2249.7,491.8 2250.6,511.5 2250.2,531.2 2249.5,550.9 2250.3,570.6 2249.6,590.3 2250.4,610.0 2250.0,629.7 2250.3,649.4 2250.0,669.1 2250.5,688.8 2250.3,708.5 2249.5,728.2 2250.6,747.9 2250.3,767.6 2250.4,787.3 2251.2,807.0 2250.8,826.7 2250.6,846.4 2249.6,866.1 2250.9,885.8 2250.0,905.5 2252.7,925.2 2250.2,944.9 2254.3,964.6 2255.0,984.3 2258.8,1004.0 2256.3,1023.7 2259.8,1043.4 2260.9,1063.1 2268.3,1082.8 2269.8,1102.5 2275.6,1122.2 2277.5,1141.9 2281.3,1161.6 2292.4,1181.3 2296.7,1201.0 2301.9,1220.7 2327.4,1240.4 2332.5,1260.1 2306.9,1279.8 2351.2,1299.5 2310.3,1319.2 2330.2,1338.9 2301.8,1358.6 2334.6,1378.3 2299.0,1398.0" fill="none" stroke="#e85c4d" stroke-width="10.6" stroke-linejoin="round" stroke-linecap="round"/>
<polyline points="2252.0,1000.0 2265.0,1050.0 2279.0,1080.0 2284.0,1116.0 2308.0,1161.0 2317.0,1197.0 2344.0,1215.0 2356.0,1238.0 2347.0,1260.0 2367.0,1277.0 2380.0,1295.0 2390.0,1313.0 2390.0,1340.0 2360.0,1350.0" fill="none" stroke="#e85c4d" stroke-width="10.6" stroke-linejoin="round" stroke-linecap="round"/>
<polyline points="2252.0,1000.0 2270.0,1080.0 2280.0,1116.0 2300.0,1160.0 2330.0,1200.0 2350.0,1220.0 2367.0,1238.0 2441.0,1277.0 2322.0,1303.0 2300.0,1330.0" fill="none" stroke="#e85c4d" stroke-width="10.6" stroke-linejoin="round" stroke-linecap="round"/>
<polyline points="2300.0,1320.0 2325.6,1335.9 2408.2,1355.6 2300.5,1377.2 2310.0,1400.0" fill="none" stroke="#e85c4d" stroke-width="10.6" stroke-linejoin="round" stroke-linecap="round"/>
<polyline points="2300.0,1450.0 2300.5,1475.9 2374.1,1493.9 2284.4,1513.6 2280.0,1530.0" fill="none" stroke="#e85c4d" stroke-width="10.6" stroke-linejoin="round" stroke-linecap="round"/>
<polyline points="2290.8,1710.0 2480.0,1718.9 2601.3,1729.1 2594.5,1751.3 2480.0,1761.6 2326.2,1771.4" fill="none" stroke="#e85c4d" stroke-width="10.6" stroke-linejoin="round" stroke-linecap="round"/>
<polyline points="2268.4,1600.0 2264.7,1637.3 2272.2,1674.5 2246.0,1691.3 2268.4,1708.1 2298.2,1730.4 2227.4,1749.0 2283.3,1767.7 2236.7,1788.2 2305.7,1810.5 2234.9,1827.3 2290.8,1846.0 2234.9,1849.7 2268.4,1866.0" fill="none" stroke="#e85c4d" stroke-width="10.6" stroke-linejoin="round" stroke-linecap="round"/>
<polyline points="2317.0,1280.0 2311.7,1295.2 2315.1,1316.7 2298.0,1336.3 2304.9,1354.7 2298.6,1371.0 2334.8,1386.9 2323.9,1405.9 2330.6,1427.0 2345.3,1444.4 2354.4,1463.9 2317.4,1481.2 2334.5,1496.9 2335.4,1516.8 2339.2,1534.9 2328.5,1555.8 2321.9,1571.2 2307.0,1593.7 2290.8,1612.3 2258.2,1629.5 2274.9,1651.5 2252.4,1673.4 2286.0,1691.7 2275.4,1707.9 2249.3,1726.6 2271.3,1747.5 2286.8,1765.8 2238.4,1788.4 2235.2,1811.2 2230.1,1829.7 2256.0,1845.3 2267.4,1861.4" fill="none" stroke="#e85c4d" stroke-width="10.6" stroke-linejoin="round" stroke-linecap="round"/>
</g>
<rect x="2138.5" y="216.5" width="1219.0" height="1652.0" fill="none" stroke="#fff" stroke-width="5"/>
<line x1="2126.0" y1="1789.8" x2="2136.0" y2="1789.8" stroke="#fff" stroke-width="2.5"/>
<text x="2061.59" y="1806.4" font-family='"Liberation Sans", sans-serif' font-size="46.5" font-weight="normal" fill="#fff" textLength="51.72" lengthAdjust="spacingAndGlyphs" >10</text>
<line x1="2126.0" y1="1593.2" x2="2136.0" y2="1593.2" stroke="#fff" stroke-width="2.5"/>
<text x="2061.73" y="1609.8" font-family='"Liberation Sans", sans-serif' font-size="46.5" font-weight="normal" fill="#fff" textLength="51.72" lengthAdjust="spacingAndGlyphs" >15</text>
<line x1="2126.0" y1="1396.5" x2="2136.0" y2="1396.5" stroke="#fff" stroke-width="2.5"/>
<text x="2061.59" y="1413.1" font-family='"Liberation Sans", sans-serif' font-size="46.5" font-weight="normal" fill="#fff" textLength="51.72" lengthAdjust="spacingAndGlyphs" >20</text>
<line x1="2126.0" y1="1199.8" x2="2136.0" y2="1199.8" stroke="#fff" stroke-width="2.5"/>
<text x="2061.73" y="1216.4" font-family='"Liberation Sans", sans-serif' font-size="46.5" font-weight="normal" fill="#fff" textLength="51.72" lengthAdjust="spacingAndGlyphs" >25</text>
<line x1="2126.0" y1="1003.2" x2="2136.0" y2="1003.2" stroke="#fff" stroke-width="2.5"/>
<text x="2061.59" y="1019.8" font-family='"Liberation Sans", sans-serif' font-size="46.5" font-weight="normal" fill="#fff" textLength="51.72" lengthAdjust="spacingAndGlyphs" >30</text>
<line x1="2126.0" y1="806.5" x2="2136.0" y2="806.5" stroke="#fff" stroke-width="2.5"/>
<text x="2061.73" y="823.1" font-family='"Liberation Sans", sans-serif' font-size="46.5" font-weight="normal" fill="#fff" textLength="51.72" lengthAdjust="spacingAndGlyphs" >35</text>
<line x1="2126.0" y1="609.8" x2="2136.0" y2="609.8" stroke="#fff" stroke-width="2.5"/>
<text x="2061.59" y="626.4" font-family='"Liberation Sans", sans-serif' font-size="46.5" font-weight="normal" fill="#fff" textLength="51.72" lengthAdjust="spacingAndGlyphs" >40</text>
<line x1="2126.0" y1="413.2" x2="2136.0" y2="413.2" stroke="#fff" stroke-width="2.5"/>
<text x="2061.73" y="429.8" font-family='"Liberation Sans", sans-serif' font-size="46.5" font-weight="normal" fill="#fff" textLength="51.72" lengthAdjust="spacingAndGlyphs" >45</text>
<line x1="2126.0" y1="216.5" x2="2136.0" y2="216.5" stroke="#fff" stroke-width="2.5"/>
<text x="2061.59" y="233.1" font-family='"Liberation Sans", sans-serif' font-size="46.5" font-weight="normal" fill="#fff" textLength="51.72" lengthAdjust="spacingAndGlyphs" >50</text>
<line x1="2249.5" y1="1871.0" x2="2249.5" y2="1881.0" stroke="#fff" stroke-width="2.5"/>
<text x="2186.37" y="1926.5" font-family='"Liberation Sans", sans-serif' font-size="46.5" font-weight="normal" fill="#fff" textLength="123.45" lengthAdjust="spacingAndGlyphs" >0.000</text>
<line x1="2471.1" y1="1871.0" x2="2471.1" y2="1881.0" stroke="#fff" stroke-width="2.5"/>
<text x="2407.96" y="1926.5" font-family='"Liberation Sans", sans-serif' font-size="46.5" font-weight="normal" fill="#fff" textLength="124.03" lengthAdjust="spacingAndGlyphs" >0.002</text>
<line x1="2692.7" y1="1871.0" x2="2692.7" y2="1881.0" stroke="#fff" stroke-width="2.5"/>
<text x="2629.58" y="1926.5" font-family='"Liberation Sans", sans-serif' font-size="46.5" font-weight="normal" fill="#fff" textLength="122.96" lengthAdjust="spacingAndGlyphs" >0.004</text>
<line x1="2914.3" y1="1871.0" x2="2914.3" y2="1881.0" stroke="#fff" stroke-width="2.5"/>
<text x="2851.17" y="1926.5" font-family='"Liberation Sans", sans-serif' font-size="46.5" font-weight="normal" fill="#fff" textLength="123.70" lengthAdjust="spacingAndGlyphs" >0.006</text>
<line x1="3135.9" y1="1871.0" x2="3135.9" y2="1881.0" stroke="#fff" stroke-width="2.5"/>
<text x="3072.77" y="1926.5" font-family='"Liberation Sans", sans-serif' font-size="46.5" font-weight="normal" fill="#fff" textLength="123.68" lengthAdjust="spacingAndGlyphs" >0.008</text>
<line x1="3357.5" y1="1871.0" x2="3357.5" y2="1881.0" stroke="#fff" stroke-width="2.5"/>
<text x="3294.37" y="1926.5" font-family='"Liberation Sans", sans-serif' font-size="46.5" font-weight="normal" fill="#fff" textLength="123.45" lengthAdjust="spacingAndGlyphs" >0.010</text>
<text x="2319.17" y="2002.2" font-family='"Liberation Sans", sans-serif' font-size="62.5" font-weight="normal" fill="#fff" textLength="860.81" lengthAdjust="spacingAndGlyphs" >Aerosol Extinction Coefficient</text>
<path d="M 2656.6,2035 H 2672.1 V 2039.6 H 2661.6 V 2084.2 H 2672.1 V 2088.8 H 2656.6 Z" fill="#fff"/>
<path d="M 2844.1,2035 H 2829.0 V 2039.6 H 2839.1 V 2084.2 H 2829.0 V 2088.8 H 2844.1 Z" fill="#fff"/>
<text x="2675.64" y="2077.0" font-family='"Liberation Sans", sans-serif' font-size="62.5" font-weight="normal" fill="#fff" textLength="90.22" lengthAdjust="spacingAndGlyphs" >km</text>
<rect x="2772.0" y="2043.9" width="24.8" height="1.9" fill="#fff"/>
<text x="2799.63" y="2055.0" font-family='"Liberation Serif", serif' font-size="41.5" font-weight="normal" fill="#fff" textLength="20.88" lengthAdjust="spacingAndGlyphs" >1</text>
<text x="0" y="0" transform="translate(2024.4 1044.0) rotate(-90)" font-family='"Liberation Sans", sans-serif' font-size="61" fill="#fff" text-anchor="middle" textLength="384" lengthAdjust="spacingAndGlyphs">Altitude [km]</text>
<rect x="14.5" y="759.8" width="423.0" height="896.2" rx="8" fill="#000" stroke="#a8a8a8" stroke-width="3"/>
<line x1="25" y1="790.6" x2="115" y2="790.6" stroke="#0b3e62" stroke-width="10"/>
<text x="142.39" y="804.9" font-family='"Liberation Sans", sans-serif' font-size="42" font-weight="normal" fill="#fff" textLength="277.46" lengthAdjust="spacingAndGlyphs" >2022100603SR</text>
<line x1="25" y1="849.6" x2="115" y2="849.6" stroke="#0b436a" stroke-width="10"/>
<text x="142.39" y="863.9" font-family='"Liberation Sans", sans-serif' font-size="42" font-weight="normal" fill="#fff" textLength="277.46" lengthAdjust="spacingAndGlyphs" >2022100607SR</text>
<line x1="25" y1="908.7" x2="115" y2="908.7" stroke="#0a4971" stroke-width="10"/>
<text x="142.39" y="923.0" font-family='"Liberation Sans", sans-serif' font-size="42" font-weight="normal" fill="#fff" textLength="277.46" lengthAdjust="spacingAndGlyphs" >2022100611SR</text>
<line x1="25" y1="967.7" x2="115" y2="967.7" stroke="#0a4e79" stroke-width="10"/>
<text x="142.39" y="982.0" font-family='"Liberation Sans", sans-serif' font-size="42" font-weight="normal" fill="#fff" textLength="277.46" lengthAdjust="spacingAndGlyphs" >2022100615SR</text>
<line x1="25" y1="1026.7" x2="115" y2="1026.7" stroke="#0a5381" stroke-width="10"/>
<text x="142.39" y="1041.0" font-family='"Liberation Sans", sans-serif' font-size="42" font-weight="normal" fill="#fff" textLength="277.46" lengthAdjust="spacingAndGlyphs" >2022100619SR</text>
<line x1="25" y1="1085.8" x2="115" y2="1085.8" stroke="#095988" stroke-width="10"/>
<text x="142.39" y="1100.0" font-family='"Liberation Sans", sans-serif' font-size="42" font-weight="normal" fill="#fff" textLength="277.46" lengthAdjust="spacingAndGlyphs" >2022100623SR</text>
<line x1="25" y1="1144.8" x2="115" y2="1144.8" stroke="#095e90" stroke-width="10"/>
<text x="142.39" y="1159.1" font-family='"Liberation Sans", sans-serif' font-size="42" font-weight="normal" fill="#fff" textLength="277.46" lengthAdjust="spacingAndGlyphs" >2022100627SR</text>
<line x1="25" y1="1203.8" x2="115" y2="1203.8" stroke="#086498" stroke-width="10"/>
<text x="142.39" y="1218.1" font-family='"Liberation Sans", sans-serif' font-size="42" font-weight="normal" fill="#fff" textLength="277.46" lengthAdjust="spacingAndGlyphs" >2022100631SR</text>
<line x1="25" y1="1262.8" x2="115" y2="1262.8" stroke="#08699f" stroke-width="10"/>
<text x="142.39" y="1277.1" font-family='"Liberation Sans", sans-serif' font-size="42" font-weight="normal" fill="#fff" textLength="277.46" lengthAdjust="spacingAndGlyphs" >2022100635SR</text>
<line x1="25" y1="1321.9" x2="115" y2="1321.9" stroke="#086ea7" stroke-width="10"/>
<text x="142.39" y="1336.2" font-family='"Liberation Sans", sans-serif' font-size="42" font-weight="normal" fill="#fff" textLength="277.46" lengthAdjust="spacingAndGlyphs" >2022100639SR</text>
<line x1="25" y1="1380.9" x2="115" y2="1380.9" stroke="#0774ae" stroke-width="10"/>
<text x="142.39" y="1395.2" font-family='"Liberation Sans", sans-serif' font-size="42" font-weight="normal" fill="#fff" textLength="277.46" lengthAdjust="spacingAndGlyphs" >2022100643SR</text>
<line x1="25" y1="1439.9" x2="115" y2="1439.9" stroke="#0779b6" stroke-width="10"/>
<text x="142.39" y="1454.2" font-family='"Liberation Sans", sans-serif' font-size="42" font-weight="normal" fill="#fff" textLength="277.46" lengthAdjust="spacingAndGlyphs" >2022100647SR</text>
<line x1="25" y1="1499.0" x2="115" y2="1499.0" stroke="#077ebe" stroke-width="10"/>
<text x="142.39" y="1513.3" font-family='"Liberation Sans", sans-serif' font-size="42" font-weight="normal" fill="#fff" textLength="277.46" lengthAdjust="spacingAndGlyphs" >2022100651SR</text>
<line x1="25" y1="1558.0" x2="115" y2="1558.0" stroke="#0684c5" stroke-width="10"/>
<text x="142.39" y="1572.3" font-family='"Liberation Sans", sans-serif' font-size="42" font-weight="normal" fill="#fff" textLength="277.46" lengthAdjust="spacingAndGlyphs" >2022100655SR</text>
<line x1="25" y1="1617.0" x2="115" y2="1617.0" stroke="#0689cd" stroke-width="10"/>
<text x="142.39" y="1631.3" font-family='"Liberation Sans", sans-serif' font-size="42" font-weight="normal" fill="#fff" textLength="277.46" lengthAdjust="spacingAndGlyphs" >2022100659SR</text>
<rect x="3381.5" y="760.5" width="421.5" height="895.5" rx="8" fill="#000" stroke="#a8a8a8" stroke-width="3"/>
<line x1="3391" y1="790.6" x2="3481" y2="790.6" stroke="#4a0608" stroke-width="10"/>
<text x="3508.48" y="804.9" font-family='"Liberation Sans", sans-serif' font-size="42" font-weight="normal" fill="#fff" textLength="277.47" lengthAdjust="spacingAndGlyphs" >2022100602SS</text>
<line x1="3391" y1="849.6" x2="3481" y2="849.6" stroke="#550c0d" stroke-width="10"/>
<text x="3508.48" y="863.9" font-family='"Liberation Sans", sans-serif' font-size="42" font-weight="normal" fill="#fff" textLength="277.47" lengthAdjust="spacingAndGlyphs" >2022100606SS</text>
<line x1="3391" y1="908.7" x2="3481" y2="908.7" stroke="#611212" stroke-width="10"/>
<text x="3508.48" y="923.0" font-family='"Liberation Sans", sans-serif' font-size="42" font-weight="normal" fill="#fff" textLength="277.47" lengthAdjust="spacingAndGlyphs" >2022100610SS</text>
<line x1="3391" y1="967.7" x2="3481" y2="967.7" stroke="#6c1817" stroke-width="10"/>
<text x="3508.48" y="982.0" font-family='"Liberation Sans", sans-serif' font-size="42" font-weight="normal" fill="#fff" textLength="277.47" lengthAdjust="spacingAndGlyphs" >2022100614SS</text>
<line x1="3391" y1="1026.7" x2="3481" y2="1026.7" stroke="#771f1c" stroke-width="10"/>
<text x="3508.48" y="1041.0" font-family='"Liberation Sans", sans-serif' font-size="42" font-weight="normal" fill="#fff" textLength="277.47" lengthAdjust="spacingAndGlyphs" >2022100618SS</text>
<line x1="3391" y1="1085.8" x2="3481" y2="1085.8" stroke="#822521" stroke-width="10"/>
<text x="3508.48" y="1100.0" font-family='"Liberation Sans", sans-serif' font-size="42" font-weight="normal" fill="#fff" textLength="277.47" lengthAdjust="spacingAndGlyphs" >2022100622SS</text>
<line x1="3391" y1="1144.8" x2="3481" y2="1144.8" stroke="#8e2b26" stroke-width="10"/>
<text x="3508.48" y="1159.1" font-family='"Liberation Sans", sans-serif' font-size="42" font-weight="normal" fill="#fff" textLength="277.47" lengthAdjust="spacingAndGlyphs" >2022100626SS</text>
<line x1="3391" y1="1203.8" x2="3481" y2="1203.8" stroke="#99312a" stroke-width="10"/>
<text x="3508.48" y="1218.1" font-family='"Liberation Sans", sans-serif' font-size="42" font-weight="normal" fill="#fff" textLength="277.47" lengthAdjust="spacingAndGlyphs" >2022100630SS</text>
<line x1="3391" y1="1262.8" x2="3481" y2="1262.8" stroke="#a4372f" stroke-width="10"/>
<text x="3508.48" y="1277.1" font-family='"Liberation Sans", sans-serif' font-size="42" font-weight="normal" fill="#fff" textLength="277.47" lengthAdjust="spacingAndGlyphs" >2022100634SS</text>
<line x1="3391" y1="1321.9" x2="3481" y2="1321.9" stroke="#b03d34" stroke-width="10"/>
<text x="3508.48" y="1336.2" font-family='"Liberation Sans", sans-serif' font-size="42" font-weight="normal" fill="#fff" textLength="277.47" lengthAdjust="spacingAndGlyphs" >2022100638SS</text>
<line x1="3391" y1="1380.9" x2="3481" y2="1380.9" stroke="#bb4339" stroke-width="10"/>
<text x="3508.48" y="1395.2" font-family='"Liberation Sans", sans-serif' font-size="42" font-weight="normal" fill="#fff" textLength="277.47" lengthAdjust="spacingAndGlyphs" >2022100642SS</text>
<line x1="3391" y1="1439.9" x2="3481" y2="1439.9" stroke="#c64a3e" stroke-width="10"/>
<text x="3508.48" y="1454.2" font-family='"Liberation Sans", sans-serif' font-size="42" font-weight="normal" fill="#fff" textLength="277.47" lengthAdjust="spacingAndGlyphs" >2022100646SS</text>
<line x1="3391" y1="1499.0" x2="3481" y2="1499.0" stroke="#d15043" stroke-width="10"/>
<text x="3508.48" y="1513.3" font-family='"Liberation Sans", sans-serif' font-size="42" font-weight="normal" fill="#fff" textLength="277.47" lengthAdjust="spacingAndGlyphs" >2022100650SS</text>
<line x1="3391" y1="1558.0" x2="3481" y2="1558.0" stroke="#dd5648" stroke-width="10"/>
<text x="3508.48" y="1572.3" font-family='"Liberation Sans", sans-serif' font-size="42" font-weight="normal" fill="#fff" textLength="277.47" lengthAdjust="spacingAndGlyphs" >2022100654SS</text>
<line x1="3391" y1="1617.0" x2="3481" y2="1617.0" stroke="#e85c4d" stroke-width="10"/>
<text x="3508.48" y="1631.3" font-family='"Liberation Sans", sans-serif' font-size="42" font-weight="normal" fill="#fff" textLength="277.47" lengthAdjust="spacingAndGlyphs" >2022100658SS</text>
<line x1="40" y1="1980" x2="120" y2="1980" stroke="#fff" stroke-width="9.5" stroke-dasharray="36.5 17"/>
<line x1="40" y1="2040.4" x2="120" y2="2040.4" stroke="#fff" stroke-width="9.5" stroke-dasharray="9.5 17"/>
<rect x="40" y="2085" width="81" height="29" fill="#676a6f" stroke="#a2a2a2" stroke-width="2.5"/>
<text x="151.26" y="1993.7" font-family='"Liberation Sans", sans-serif' font-size="41.7" font-weight="normal" fill="#fff" textLength="350.66" lengthAdjust="spacingAndGlyphs" >Mean Tropopause</text>
<text x="151.23" y="2053.7" font-family='"Liberation Sans", sans-serif' font-size="41.7" font-weight="normal" fill="#fff" textLength="386.60" lengthAdjust="spacingAndGlyphs" >Median Tropopause</text>
<text x="152.33" y="2113.3" font-family='"Liberation Sans", sans-serif' font-size="41.7" font-weight="normal" fill="#fff" textLength="369.18" lengthAdjust="spacingAndGlyphs" >Tropopause Range</text>
<text x="3267.37" y="2038.9" font-family='"Liberation Sans", sans-serif' font-size="33.4" font-weight="normal" fill="#8a8a8a" textLength="569.00" lengthAdjust="spacingAndGlyphs" >SAGE III/ISS Mission | NASA LaRC</text>
<text x="3311.57" y="2076.6" font-family='"Liberation Sans", sans-serif' font-size="33.4" font-weight="normal" fill="#8a8a8a" textLength="523.44" lengthAdjust="spacingAndGlyphs" >Preparer: Kevin R. Leavor (AMA)</text>
<text x="3389.66" y="2113.5" font-family='"Liberation Sans", sans-serif' font-size="33.4" font-weight="normal" fill="#8a8a8a" textLength="446.80" lengthAdjust="spacingAndGlyphs" >Generated 2025-07-17 22:25</text>
<text x="3532.89" y="2150.7" font-family='"Liberation Sans", sans-serif' font-size="33.4" font-weight="normal" fill="#8a8a8a" textLength="303.49" lengthAdjust="spacingAndGlyphs" >Data Version: 6.0.0</text>
<g id="logo">
<defs>
<clipPath id="ringclip"><circle cx="3662.3" cy="220.8" r="129"/></clipPath>
<path id="arcpath" d="M 3510.3,222.8 A 152 152 0 0 0 3814.3,222.8" fill="none"/>
</defs>
<path d="M 3495.5,68.5 Q 3495.5,18.5 3545.5,18.5 L 3780.5,18.5 Q 3830.5,18.5 3830.5,68.5 L 3830.5,218.0 A 167.5,167.5 0 0 1 3495.5,218.0 Z" fill="#1c5593" stroke="#e0564a" stroke-width="8.5"/>
<circle cx="3662.3" cy="220.8" r="129" fill="#0f4b87"/>
<g clip-path="url(#ringclip)">
<circle cx="2991.6" cy="745.2" r="867.1" fill="#2a6fae"/>
<circle cx="2991.6" cy="745.2" r="852.1" fill="#11508e" stroke="#dfe8f2" stroke-width="1.4"/>
<path d="M 3606.9,179.0 L 3633.8,184.3 L 3660.7,218.4 L 3666.1,236.4 L 3664.3,256.1 L 3651.8,259.7 L 3642.8,272.3 L 3642.8,290.2 L 3655.4,302.8 L 3675.1,313.5 L 3691.2,309.9 L 3696.6,324.3 L 3691.2,351.2 L 3606.9,351.2 Z M 3694.8,295.6 L 3709.2,290.2 L 3723.5,297.4 L 3732.5,324.3 L 3736.1,342.2 L 3694.8,342.2 Z" fill="#58a163"/>
<path d="M 3621.3,202.3 L 3639.2,205.9 L 3650.0,214.8 L 3646.4,225.6 L 3633.8,222.0 L 3626.7,214.8 Z" fill="#11508e"/>
</g>
<circle cx="3662.3" cy="220.8" r="135" fill="none" stroke="#c9ccd3" stroke-width="12"/>
<line x1="3714.6" y1="191.5" x2="3646.4" y2="167.3" stroke="#e8eef5" stroke-width="1.2"/>
<line x1="3714.6" y1="191.5" x2="3657" y2="160" stroke="#e8eef5" stroke-width="1.2"/>
<line x1="3714.6" y1="191.5" x2="3669.7" y2="225.6" stroke="#e8eef5" stroke-width="1.2"/>
<line x1="3714.6" y1="191.5" x2="3675" y2="233.7" stroke="#e8eef5" stroke-width="1.2"/>
<line x1="3716" y1="193" x2="3723.5" y2="258" stroke="#e8eef5" stroke-width="1.2"/>
<line x1="3716" y1="193" x2="3734.3" y2="256" stroke="#e8eef5" stroke-width="1.2"/>
<line x1="3603" y1="152" x2="3637" y2="150" stroke="#e8eef5" stroke-width="1.2"/>
<circle cx="3637.4" cy="144" r="24" fill="#dcdde1"/>
<path d="M 3632,131 c 7,-3 13,3 10,9 c -4,5 -11,2 -10,-9 z M 3646,140 c 6,-2 10,5 6,10 c -5,3 -10,0 -6,-10 z M 3624,150 c 5,0 7,6 2,9 c -5,0 -6,-6 -2,-9 z M 3640,155 c 4,0 6,4 2,6 c -4,1 -5,-3 -2,-6 z" fill="#b7bac2"/>
<circle cx="3735.2" cy="280.3" r="23.3" fill="#f8d991"/>
<path d="M 3722,261 A 23.3 23.3 0 0 0 3730,303 A 28 28 0 0 1 3722,261 Z" fill="#cfcbc2"/>
<path d="M 3693,107.6 L 3694.7,114.39999999999999 L 3701.5,116.1 L 3694.7,117.8 L 3693,124.6 L 3691.3,117.8 L 3684.5,116.1 L 3691.3,114.39999999999999 Z" fill="#fbe3a6"/>
<path d="M 3679.6,122 L 3680.6,126.0 L 3684.6,127 L 3680.6,128.0 L 3679.6,132 L 3678.6,128.0 L 3674.6,127 L 3678.6,126.0 Z" fill="#fbe3a6"/>
<path d="M 3703.8,127.4 L 3704.6000000000004,130.6 L 3707.8,131.4 L 3704.6000000000004,132.20000000000002 L 3703.8,135.4 L 3703.0,132.20000000000002 L 3699.8,131.4 L 3703.0,130.6 Z" fill="#fbe3a6"/>
<g transform="translate(3727,177) rotate(42)" fill="#c3c7ce">
<rect x="-30" y="-1.5" width="60" height="3"/><rect x="-9" y="-4" width="18" height="8"/>
<rect x="-30.0" y="-17" width="3.4" height="34"/>
<rect x="-24.8" y="-17" width="3.4" height="34"/>
<rect x="-19.6" y="-17" width="3.4" height="34"/>
<rect x="-14.4" y="-17" width="3.4" height="34"/>
<rect x="12.0" y="-17" width="3.4" height="34"/>
<rect x="17.2" y="-17" width="3.4" height="34"/>
<rect x="22.4" y="-17" width="3.4" height="34"/>
<rect x="27.6" y="-17" width="3.4" height="34"/>
</g>
<path d="M 3520.0,176.1 L 3502.0,242.2 L 3514.0,238.2 L 3536.0,220.1 L 3540.0,194.1 Z" fill="#b8352a"/>
<path d="M 3540.0,156.1 L 3564.1,148.1 L 3584.1,156.1 L 3602.1,174.1 L 3610.1,186.1 L 3608.1,332.2 L 3598.1,330.2 L 3570.1,310.2 L 3550.1,290.2 L 3540.0,266.2 L 3540.0,210.1 L 3530.0,190.1 Z" fill="#cc4432"/>
<path d="M 3507,236 L 3522,190 L 3527,192 L 3514,234 Z M 3548,215 L 3556,288 L 3562,292 L 3553,215 Z M 3570,225 L 3578,312 L 3585,316 L 3576,225 Z M 3590,228 L 3596,325 L 3602,328 L 3596,228 Z" fill="#8e2218"/>
<path d="M 3556,208 L 3602,216 L 3602,221 L 3556,213 Z" fill="#6b3415"/>
<path d="M 3588,217 L 3594,214 L 3600,217 L 3600,225 L 3594,229 L 3588,225 Z" fill="#8a5424" stroke="#4a2410" stroke-width="1"/>
<path d="M 3604,170 L 3617,166 L 3619,192 L 3606,195 Z" fill="#8a3a20"/>
<path d="M 3556.1,142.1 L 3570.1,130.0 L 3590.1,127.0 L 3606.1,130.0 L 3610.1,140.0 L 3608.1,154.1 L 3604.1,166.1 L 3602.1,180.1 L 3598.1,190.1 L 3584.1,192.1 L 3574.1,180.1 L 3566.1,164.1 L 3556.1,156.1 Z" fill="#f2f2f2"/>
<path d="M 3578.1,136.0 L 3594.1,133.0 L 3604.1,138.0 L 3605.1,150.1 L 3601.1,160.1 L 3590.1,161.1 L 3582.1,154.1 L 3578.1,144.1 Z" fill="#c99b6b"/>
<path d="M 3533,122 L 3539,178 L 3548,230 L 3556,264 L 3562,290" fill="none" stroke="#b0692a" stroke-width="3.4"/>
<circle cx="3533" cy="113" r="9.6" fill="#d2d6dd" stroke="#f2f2f2" stroke-width="1.5"/>
<ellipse cx="3537" cy="185" rx="8" ry="8" fill="#ddb286"/>
<ellipse cx="3612" cy="190" rx="5" ry="6" fill="#ddb286"/>
<text x="3661" y="59.4" font-family='"Liberation Serif", serif' font-weight="bold" font-size="43.5" fill="#fff" text-anchor="middle" textLength="271" lengthAdjust="spacingAndGlyphs">SAGE III &#8226; ISS</text>
<text x="3528.5" y="71.2" font-family='"Liberation Sans", sans-serif' font-size="9.6" fill="#e8ecf2" textLength="172" lengthAdjust="spacingAndGlyphs">Stratospheric Aerosol and Gas Experiment III</text>
<text x="3763" y="71.2" font-family='"Liberation Sans", sans-serif' font-size="9.6" fill="#e8ecf2" text-anchor="middle" textLength="52" lengthAdjust="spacingAndGlyphs">International</text>
<text x="3763" y="82.8" font-family='"Liberation Sans", sans-serif' font-size="9.6" fill="#e8ecf2" text-anchor="middle" textLength="59" lengthAdjust="spacingAndGlyphs">Space Station</text>
<text font-family='"Liberation Sans", sans-serif' font-weight="bold" font-size="17.5" fill="#fff"><textPath href="#arcpath" startOffset="52%" text-anchor="middle" textLength="410" lengthAdjust="spacingAndGlyphs">BALL &#8226; NASA LANGLEY RESEARCH CENTER &#8226; TAS-I &#8226; ESA</textPath></text>
</g>
</svg>
</body></html>
